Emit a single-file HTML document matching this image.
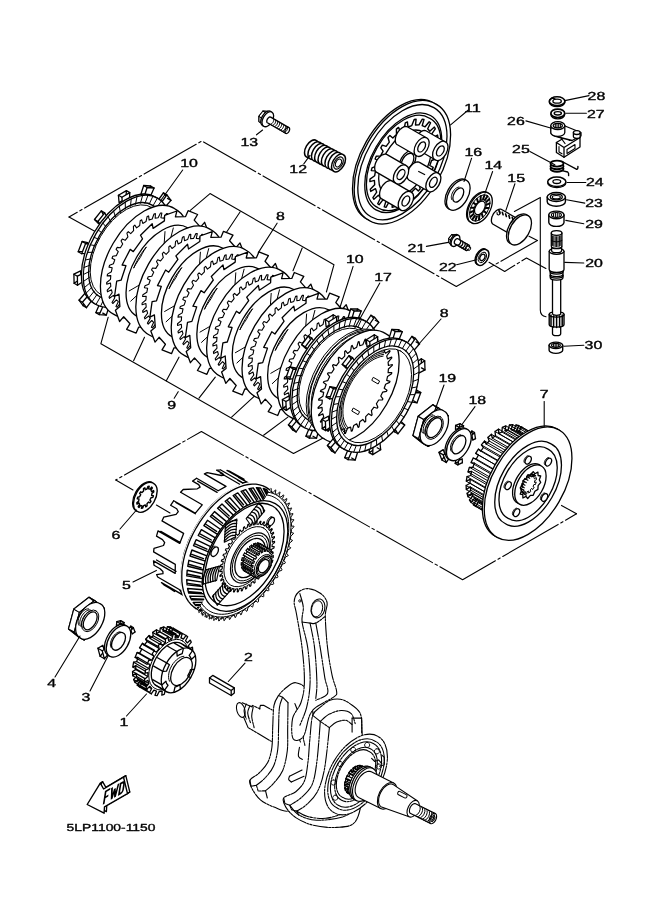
<!DOCTYPE html>
<html><head><meta charset="utf-8"><title>Clutch</title>
<style>
html,body{margin:0;padding:0;background:#fff;}
body{width:661px;height:913px;overflow:hidden;font-family:"Liberation Sans",sans-serif;}
svg{display:block;position:absolute;left:0;top:0;}
svg text{font-family:"Liberation Sans",sans-serif;fill:#000;text-rendering:geometricPrecision;}
</style></head><body>
<svg width="661" height="913" viewBox="0 0 661 913" stroke-linecap="round" stroke-linejoin="round">
<rect width="661" height="913" fill="#fff"/>
<path d="M69 217 L202 141 L456.3 286.5 L537.4 240.5" fill="none" stroke="#000" stroke-width="1.1" stroke-dasharray="60 3 2.5 3" stroke-dashoffset="-18"/>
<path d="M97 232.5 L69 217" fill="none" stroke="#000" stroke-width="1.1" />
<path d="M537.4 240.5 L529 236.2" fill="none" stroke="#000" stroke-width="1.1" />
<path d="M489 262.3 L504.7 271.5 L526.5 258 L545.9 268.4" fill="none" stroke="#000" stroke-width="1.1" stroke-dasharray="30 3 2.5 3"/>
<path d="M514.4 211.5L540.3 197.4L540.3 310Q540.3 316 546 316.8" fill="none" stroke="#000" stroke-width="1.1" />
<path d="M115.8 480 L201.4 431.6 L462.6 579.7 L576.5 513.8" fill="none" stroke="#000" stroke-width="1.1" stroke-dasharray="64 3 2.5 3" stroke-dashoffset="-10"/>
<path d="M133 490 L115.8 480" fill="none" stroke="#000" stroke-width="1.1" />
<path d="M576.5 513.8 L561.5 505.4" fill="none" stroke="#000" stroke-width="1.1" />
<path d="M156.4 505 L170 513" fill="none" stroke="#000" stroke-width="1.1" />
<path d="M190.3 210.3 L210 193.6 L334 264.7 L326.4 292" fill="none" stroke="#000" stroke-width="1.1" />
<path d="M240.2 211.8 L225 234.5" fill="none" stroke="#000" stroke-width="1.1" />
<path d="M302.2 248 L293 270.8" fill="none" stroke="#000" stroke-width="1.1" />
<path d="M108.2 317.2 L100.9 343.7 L293.5 453.5 L326 436.5" fill="none" stroke="#000" stroke-width="1.1" />
<path d="M133.6 360.8 L144.5 337.2" fill="none" stroke="#000" stroke-width="1.1" />
<path d="M166.3 380.8 L179 357.2" fill="none" stroke="#000" stroke-width="1.1" />
<path d="M199 398.2 L215.3 377.1" fill="none" stroke="#000" stroke-width="1.1" />
<path d="M231.6 417.1 L255.2 395.3" fill="none" stroke="#000" stroke-width="1.1" />
<path d="M263.6 435.2 L287.9 417.1" fill="none" stroke="#000" stroke-width="1.1" />
<path d="M158 200.5 L163.4 192.9 L167.5 198.4 L161.5 205.3Z" fill="#fff" stroke="#000" stroke-width="1.3" />
<path d="M161.4 202.5 L166.9 194.9 L171 200.4 L164.9 207.3Z" fill="#fff" stroke="#000" stroke-width="1.3" />
<path d="M163.4 192.9L166.9 194.9" stroke="#000" stroke-width="1.3" fill="none" />
<path d="M167.5 198.4L171 200.4" stroke="#000" stroke-width="1.3" fill="none" />
<path d="M165.7 219.9 L172.4 215.3 L172.5 224.4 L165.8 227.8Z" fill="#fff" stroke="#000" stroke-width="1.3" />
<path d="M169.2 221.9 L175.9 217.3 L176 226.4 L169.3 229.8Z" fill="#fff" stroke="#000" stroke-width="1.3" />
<path d="M172.4 215.3L175.9 217.3" stroke="#000" stroke-width="1.3" fill="none" />
<path d="M172.5 224.4L176 226.4" stroke="#000" stroke-width="1.3" fill="none" />
<path d="M162.1 247.2 L168.2 246.9 L164.4 257.1 L158.8 256Z" fill="#fff" stroke="#000" stroke-width="1.3" />
<path d="M165.6 249.2 L171.7 248.9 L167.8 259.1 L162.3 258Z" fill="#fff" stroke="#000" stroke-width="1.3" />
<path d="M168.2 246.9L171.7 248.9" stroke="#000" stroke-width="1.3" fill="none" />
<path d="M164.4 257.1L167.8 259.1" stroke="#000" stroke-width="1.3" fill="none" />
<path d="M148.1 275 L152 279.1 L145.2 287.7 L142.2 282.5Z" fill="#fff" stroke="#000" stroke-width="1.3" />
<path d="M151.5 277 L155.5 281.1 L148.7 289.7 L145.7 284.5Z" fill="#fff" stroke="#000" stroke-width="1.3" />
<path d="M152 279.1L155.5 281.1" stroke="#000" stroke-width="1.3" fill="none" />
<path d="M145.2 287.7L148.7 289.7" stroke="#000" stroke-width="1.3" fill="none" />
<path d="M127.4 296 L128 303.3 L120.1 308 L120.5 300.1Z" fill="#fff" stroke="#000" stroke-width="1.3" />
<path d="M130.9 298 L131.5 305.3 L123.6 310 L124 302.1Z" fill="#fff" stroke="#000" stroke-width="1.3" />
<path d="M128 303.3L131.5 305.3" stroke="#000" stroke-width="1.3" fill="none" />
<path d="M120.1 308L123.6 310" stroke="#000" stroke-width="1.3" fill="none" />
<path d="M105.6 304.4 L102.8 313.1 L95.9 312.6 L99.6 304Z" fill="#fff" stroke="#000" stroke-width="1.3" />
<path d="M109.1 306.4 L106.3 315.1 L99.3 314.6 L103.1 306Z" fill="#fff" stroke="#000" stroke-width="1.3" />
<path d="M102.8 313.1L106.3 315.1" stroke="#000" stroke-width="1.3" fill="none" />
<path d="M95.9 312.6L99.3 314.6" stroke="#000" stroke-width="1.3" fill="none" />
<path d="M88.5 298.1 L83.1 305.7 L79 300.2 L85 293.3Z" fill="#fff" stroke="#000" stroke-width="1.3" />
<path d="M92 300.1 L86.5 307.7 L82.4 302.2 L88.5 295.3Z" fill="#fff" stroke="#000" stroke-width="1.3" />
<path d="M83.1 305.7L86.5 307.7" stroke="#000" stroke-width="1.3" fill="none" />
<path d="M79 300.2L82.4 302.2" stroke="#000" stroke-width="1.3" fill="none" />
<path d="M80.7 278.7 L74.1 283.3 L73.9 274.2 L80.6 270.8Z" fill="#fff" stroke="#000" stroke-width="1.3" />
<path d="M84.2 280.7 L77.5 285.3 L77.4 276.2 L84.1 272.8Z" fill="#fff" stroke="#000" stroke-width="1.3" />
<path d="M74.1 283.3L77.5 285.3" stroke="#000" stroke-width="1.3" fill="none" />
<path d="M73.9 274.2L77.4 276.2" stroke="#000" stroke-width="1.3" fill="none" />
<path d="M84.4 251.4 L78.2 251.7 L82.1 241.5 L87.7 242.6Z" fill="#fff" stroke="#000" stroke-width="1.3" />
<path d="M87.8 253.4 L81.7 253.7 L85.6 243.5 L91.1 244.6Z" fill="#fff" stroke="#000" stroke-width="1.3" />
<path d="M78.2 251.7L81.7 253.7" stroke="#000" stroke-width="1.3" fill="none" />
<path d="M82.1 241.5L85.6 243.5" stroke="#000" stroke-width="1.3" fill="none" />
<path d="M98.4 223.6 L94.5 219.5 L101.3 210.9 L104.3 216.1Z" fill="#fff" stroke="#000" stroke-width="1.3" />
<path d="M101.9 225.6 L97.9 221.5 L104.7 212.9 L107.7 218.1Z" fill="#fff" stroke="#000" stroke-width="1.3" />
<path d="M94.5 219.5L97.9 221.5" stroke="#000" stroke-width="1.3" fill="none" />
<path d="M101.3 210.9L104.7 212.9" stroke="#000" stroke-width="1.3" fill="none" />
<path d="M119.1 202.6 L118.4 195.3 L126.4 190.6 L125.9 198.5Z" fill="#fff" stroke="#000" stroke-width="1.3" />
<path d="M122.5 204.6 L121.9 197.3 L129.8 192.6 L129.4 200.5Z" fill="#fff" stroke="#000" stroke-width="1.3" />
<path d="M118.4 195.3L121.9 197.3" stroke="#000" stroke-width="1.3" fill="none" />
<path d="M126.4 190.6L129.8 192.6" stroke="#000" stroke-width="1.3" fill="none" />
<path d="M140.9 194.2 L143.7 185.5 L150.6 186 L146.9 194.6Z" fill="#fff" stroke="#000" stroke-width="1.3" />
<path d="M144.3 196.2 L147.1 187.5 L154.1 188 L150.3 196.6Z" fill="#fff" stroke="#000" stroke-width="1.3" />
<path d="M143.7 185.5L147.1 187.5" stroke="#000" stroke-width="1.3" fill="none" />
<path d="M150.6 186L154.1 188" stroke="#000" stroke-width="1.3" fill="none" />
<path d="M155.5 197A61.4 35.4 -60 1 0 94.1 303.4A61.4 35.4 -60 1 0 155.5 197Z" fill="#fff" stroke="#000" stroke-width="1.3" />
<path d="M157.4 198.1A61.4 35.4 -60 1 0 96 304.5A61.4 35.4 -60 1 0 157.4 198.1Z" fill="#fff" stroke="none" stroke-width="0" />
<path d="M157.4 198.1 L159.5 199.5 L161.4 201.1 L163.1 203 L164.7 205.1 L166 207.4 L167.2 209.9 L168.2 212.7 L169 215.6 L169.6 218.7 L169.9 222 L170.1 225.4 L170 228.9 L169.8 232.5 L169.3 236.3 L168.6 240.1 L167.7 243.9 L166.6 247.8 L165.4 251.7 L163.9 255.6 L162.2 259.5 L160.4 263.4 L158.4 267.1 L156.3 270.9 L154 274.5 L151.6 278 L149 281.4 L146.4 284.6 L143.6 287.6 L140.8 290.5 L137.9 293.2 L135 295.7 L132 298 L129 300 L125.9 301.9 L122.9 303.4 L119.9 304.7 L116.9 305.8 L114 306.6 L111.1 307.1 L108.3 307.3 L105.6 307.3 L103 307 L100.6 306.4 L98.2 305.6 L96 304.5 L93.9 303.1 L92 301.5 L90.3 299.6 L88.7 297.5 L87.4 295.2 L86.2 292.7 L85.2 289.9 L84.4 287 L83.8 283.9 L83.5 280.6 L83.3 277.2 L83.4 273.7 L83.6 270.1 L84.1 266.3 L84.8 262.5 L85.7 258.7 L86.8 254.8 L88 250.9 L89.5 247 L91.2 243.1 L93 239.2 L95 235.5 L97.1 231.7 L99.4 228.1 L101.8 224.6 L104.4 221.2 L107 218 L109.8 215 L112.6 212.1 L115.5 209.4 L118.4 206.9 L121.4 204.6 L124.4 202.6 L127.5 200.7 L130.5 199.2 L133.5 197.9 L136.5 196.8 L139.4 196 L142.3 195.5 L145.1 195.3 L147.8 195.3 L150.4 195.6 L152.8 196.2 L155.2 197 L157.4 198.1Z M152 207.6 L153.6 208.7 L155.2 210 L156.6 211.6 L157.9 213.3 L159.1 215.2 L160 217.3 L160.8 219.5 L161.5 221.9 L162 224.5 L162.3 227.2 L162.4 230 L162.3 232.9 L162.1 235.9 L161.7 238.9 L161.2 242.1 L160.4 245.2 L159.6 248.4 L158.5 251.6 L157.3 254.9 L155.9 258.1 L154.4 261.2 L152.8 264.3 L151 267.4 L149.2 270.4 L147.2 273.2 L145.1 276 L142.9 278.7 L140.6 281.2 L138.3 283.6 L135.9 285.8 L133.5 287.8 L131 289.7 L128.6 291.4 L126.1 292.9 L123.6 294.2 L121.1 295.2 L118.7 296.1 L116.3 296.8 L113.9 297.2 L111.6 297.4 L109.4 297.4 L107.2 297.1 L105.2 296.6 L103.3 295.9 L101.5 295 L99.8 293.9 L98.2 292.6 L96.8 291 L95.5 289.3 L94.3 287.4 L93.4 285.3 L92.6 283.1 L91.9 280.7 L91.4 278.1 L91.1 275.4 L91 272.6 L91.1 269.7 L91.3 266.7 L91.7 263.7 L92.2 260.5 L93 257.4 L93.8 254.2 L94.9 251 L96.1 247.7 L97.5 244.5 L99 241.4 L100.6 238.3 L102.4 235.2 L104.2 232.2 L106.2 229.4 L108.3 226.6 L110.5 223.9 L112.8 221.4 L115.1 219 L117.5 216.8 L119.9 214.8 L122.4 212.9 L124.8 211.2 L127.3 209.7 L129.8 208.4 L132.3 207.4 L134.7 206.5 L137.1 205.8 L139.5 205.4 L141.8 205.2 L144 205.2 L146.2 205.5 L148.2 206 L150.1 206.7 L151.9 207.6Z" fill="#fff" fill-rule="evenodd" stroke="none"/>
<path d="M157.4 198.1A61.4 35.4 -60 1 0 96 304.5A61.4 35.4 -60 1 0 157.4 198.1Z" fill="none" stroke="#000" stroke-width="1.3" />
<path d="M153.1 205.6A52.8 30.5 -60 1 0 100.3 297A52.8 30.5 -60 1 0 153.1 205.6Z" fill="none" stroke="#000" stroke-width="1.3" />
<path d="M152 207.6A50.5 29.1 -60 1 0 101.5 295A50.5 29.1 -60 1 0 152 207.6Z" fill="none" stroke="#000" stroke-width="1" />
<path d="M153.1 205.6L157.4 198.1M156.4 208.1L161.3 201M159.2 211.4L164.5 204.9M161.4 215.4L167.1 209.6M163 220.1L168.9 215.1M163.8 225.4L169.9 221.2M164 231.2L170.1 228M163.5 237.4L169.5 235.1M162.3 243.8L168.1 242.6M160.4 250.3L165.9 250.2M157.9 256.9L163 257.8M154.8 263.4L159.4 265.3M151.2 269.6L155.2 272.6M147.2 275.5L150.5 279.5M142.7 281L145.3 285.8M138 285.9L139.8 291.5M133 290.1L134.1 296.4M128 293.6L128.2 300.5M122.9 296.4L122.2 303.7M117.9 298.3L116.4 305.9M113 299.3L110.8 307.1M108.4 299.4L105.4 307.3M104.1 298.7L100.5 306.4M100.3 297L96 304.5M97 294.5L92.1 301.6M94.2 291.2L88.9 297.7M92 287.2L86.3 293M90.4 282.5L84.5 287.5M89.6 277.2L83.5 281.4M89.4 271.4L83.3 274.6M89.9 265.2L83.9 267.5M91.1 258.8L85.3 260M93 252.3L87.5 252.4M95.5 245.7L90.4 244.8M98.6 239.2L94 237.3M102.2 233L98.2 230M106.2 227.1L102.9 223.1M110.7 221.6L108.1 216.8M115.4 216.7L113.6 211.1M120.4 212.5L119.3 206.2M125.4 209L125.2 202.1M130.5 206.2L131.2 198.9M135.5 204.3L137 196.7M140.4 203.3L142.6 195.5M145 203.2L148 195.3M149.3 203.9L152.9 196.2" fill="none" stroke="#000" stroke-width="1" />
<path d="M174.9 208.8A61 35.2 -60 1 0 113.9 314.4A61 35.2 -60 1 0 174.9 208.8Z" fill="#fff" stroke="#000" stroke-width="1.3" />
<path d="M133.4 309.6 L133.6 305 L130.7 305.4 L128.3 310.2 L126.9 310.2 L127.9 305.4 L125.2 305 L122.3 309.6 L121.1 309.3 L122.7 304.3 L120.4 303.2 L117.1 307.3 L116 306.6 L118.3 301.7 L116.4 299.9 L112.8 303.5 L112 302.5 L114.8 297.8 L113.4 295.4 L109.5 298.3 L109 297 L112.2 292.6 L111.4 289.7 L107.5 291.8 L107.2 290.2 L110.8 286.4 L110.5 283 L106.7 284.2 L106.7 282.5 L110.5 279.4 L110.8 275.6 L107.2 275.9 L107.5 274.1 L111.4 271.7 L112.2 267.7 L109 267.1 L109.6 265.2 L113.4 263.7 L114.8 259.7 L112 258.2 L112.8 256.2 L116.4 255.6 L118.3 251.6 L116.1 249.3 L117.1 247.4 L120.4 247.8 L122.7 244 L121.1 240.9 L122.3 239.1 L125.2 240.3 L127.9 236.9 L126.9 233.1 L128.3 231.6 L130.7 233.7 L133.6 230.7 L133.4 226.4 L134.8 225.1 L136.6 227.9 L139.7 225.5 L140.2 220.8 L141.7 219.8 L142.8 223.4 L146 221.6 L147.1 216.6 L148.6 215.9 L149.1 220.1 L152.2 219 L154 214 L155.4 213.6 L155.2 218.2 L158.1 217.8 L160.5 213 L161.9 213 L160.9 217.8 L163.6 218.2 L166.5 213.6 L167.7 213.9 L166.1 218.9 L168.4 220 L171.7 215.9 L172.8 216.6 L170.5 221.5 L172.4 223.3 L176 219.7 L176.8 220.7 L174 225.4 L175.4 227.8 L179.3 224.9 L179.8 226.2 L176.6 230.6" fill="none" stroke="#000" stroke-width="1.1" />
<path d="M197.6 214.5 L194.2 220.1 L200.5 227.1 L204.6 222.3 L208.8 233.5 L204.3 237.2 L205.2 249.6 L209.7 247.3 L207.5 262.7 L203.1 263.6 L198.3 278.1 L202.1 278.8 L194 294.4 L190.9 292.2 L181.7 305 L183.7 308.5 L172 320.1 L171.1 315.4 L159.8 322.9 L159.6 328.4 L147.3 332.8 L148.8 327 L138.6 327.2 L136.1 333.1 L126.6 329.3 L130 323.7 L123.7 316.7 L119.6 321.5 L115.4 310.3 L119.9 306.6 L119 294.2 L114.5 296.5 L116.7 281.1 L121.1 280.2 L125.9 265.7 L122.1 265 L130.2 249.4 L133.3 251.6 L142.5 238.8 L140.5 235.3 L152.2 223.7 L153.1 228.4 L164.4 220.9 L164.6 215.4 L176.9 211 L175.4 216.8 L185.6 216.6 L188.1 210.7Z" fill="#fff" stroke="#000" stroke-width="1.3" />
<path d="M187.6 227.7A51 29.4 -60 1 0 136.6 316.1A51 29.4 -60 1 0 187.6 227.7Z" fill="none" stroke="#000" stroke-width="1.3" />
<path d="M169.9 241.1L173.3 228M163.8 249L165 231.6M145.1 281.7L129.2 290.9M144.5 288.3L130.7 301.2M133.8 267.8 L135.4 264.1 L137.3 260.4 L139.3 256.8 L141.5 253.4 L143.9 250 L146.4 246.9 L146.4 246.9 L144.2 250.4 L142.1 253.9 L140.3 257.5 L138 260.8 L135.8 264.2 L133.8 267.8Z" fill="none" stroke="#000" stroke-width="1" />
<path d="M210.3 229.4A61 35.2 -60 1 0 149.3 335A61 35.2 -60 1 0 210.3 229.4Z" fill="#fff" stroke="#000" stroke-width="1.3" />
<path d="M168.8 330.2 L169 325.6 L166.1 326 L163.7 330.8 L162.3 330.8 L163.3 326 L160.6 325.6 L157.7 330.2 L156.5 329.9 L158.1 324.9 L155.8 323.8 L152.5 327.9 L151.4 327.2 L153.7 322.3 L151.8 320.5 L148.2 324.1 L147.4 323.1 L150.2 318.4 L148.8 316 L144.9 318.9 L144.4 317.6 L147.6 313.2 L146.8 310.3 L142.9 312.4 L142.6 310.8 L146.2 307 L145.9 303.6 L142.1 304.8 L142.1 303.1 L145.9 300 L146.2 296.2 L142.6 296.5 L142.9 294.7 L146.8 292.3 L147.6 288.3 L144.4 287.7 L145 285.8 L148.8 284.3 L150.2 280.3 L147.4 278.8 L148.2 276.8 L151.8 276.2 L153.7 272.2 L151.5 269.9 L152.5 268 L155.8 268.4 L158.1 264.6 L156.5 261.5 L157.7 259.7 L160.6 260.9 L163.3 257.5 L162.3 253.7 L163.7 252.2 L166.1 254.3 L169 251.3 L168.8 247 L170.2 245.7 L172 248.5 L175.1 246.1 L175.6 241.4 L177.1 240.4 L178.2 244 L181.4 242.2 L182.5 237.2 L184 236.5 L184.5 240.7 L187.6 239.6 L189.4 234.6 L190.8 234.2 L190.6 238.8 L193.5 238.4 L195.9 233.6 L197.3 233.6 L196.3 238.4 L199 238.8 L201.9 234.2 L203.1 234.5 L201.5 239.5 L203.8 240.6 L207.1 236.5 L208.2 237.2 L205.9 242.1 L207.8 243.9 L211.4 240.3 L212.2 241.3 L209.4 246 L210.8 248.4 L214.7 245.5 L215.2 246.8 L212 251.2" fill="none" stroke="#000" stroke-width="1.1" />
<path d="M233 235.1 L229.6 240.7 L235.9 247.7 L240 242.9 L244.2 254.1 L239.7 257.8 L240.6 270.2 L245.1 267.9 L242.9 283.3 L238.5 284.2 L233.7 298.7 L237.5 299.4 L229.4 315 L226.3 312.8 L217.1 325.6 L219.1 329.1 L207.4 340.7 L206.5 336 L195.2 343.5 L195 349 L182.7 353.4 L184.2 347.6 L174 347.8 L171.5 353.7 L162 349.9 L165.4 344.3 L159.1 337.3 L155 342.1 L150.8 330.9 L155.3 327.2 L154.4 314.8 L149.9 317.1 L152.1 301.7 L156.5 300.8 L161.3 286.3 L157.5 285.6 L165.6 270 L168.7 272.2 L177.9 259.4 L175.9 255.9 L187.6 244.3 L188.5 249 L199.8 241.5 L200 236 L212.3 231.6 L210.8 237.4 L221 237.2 L223.5 231.3Z" fill="#fff" stroke="#000" stroke-width="1.3" />
<path d="M223 248.3A51 29.4 -60 1 0 172 336.7A51 29.4 -60 1 0 223 248.3Z" fill="none" stroke="#000" stroke-width="1.3" />
<path d="M205.3 261.7L208.7 248.6M199.2 269.6L200.4 252.2M180.5 302.3L164.6 311.5M179.9 308.9L166.1 321.8M169.2 288.4 L170.8 284.7 L172.7 281 L174.7 277.4 L176.9 274 L179.3 270.6 L181.8 267.5 L181.8 267.5 L179.6 271 L177.5 274.5 L175.7 278.1 L173.4 281.4 L171.2 284.8 L169.2 288.4Z" fill="none" stroke="#000" stroke-width="1" />
<path d="M245.7 250A61 35.2 -60 1 0 184.7 355.6A61 35.2 -60 1 0 245.7 250Z" fill="#fff" stroke="#000" stroke-width="1.3" />
<path d="M204.2 350.8 L204.4 346.2 L201.5 346.6 L199.1 351.4 L197.7 351.4 L198.7 346.6 L196 346.2 L193.1 350.8 L191.9 350.5 L193.5 345.5 L191.2 344.4 L187.9 348.5 L186.8 347.8 L189.1 342.9 L187.2 341.1 L183.6 344.7 L182.8 343.7 L185.6 339 L184.2 336.6 L180.3 339.5 L179.8 338.2 L183 333.8 L182.2 330.9 L178.3 333 L178 331.4 L181.6 327.6 L181.3 324.2 L177.5 325.4 L177.5 323.7 L181.3 320.6 L181.6 316.8 L178 317.1 L178.3 315.3 L182.2 312.9 L183 308.9 L179.8 308.3 L180.4 306.4 L184.2 304.9 L185.6 300.9 L182.8 299.4 L183.6 297.4 L187.2 296.8 L189.1 292.8 L186.9 290.5 L187.9 288.6 L191.2 289 L193.5 285.2 L191.9 282.1 L193.1 280.3 L196 281.5 L198.7 278.1 L197.7 274.3 L199.1 272.8 L201.5 274.9 L204.4 271.9 L204.2 267.6 L205.6 266.3 L207.4 269.1 L210.5 266.7 L211 262 L212.5 261 L213.6 264.6 L216.8 262.8 L217.9 257.8 L219.4 257.1 L219.9 261.3 L223 260.2 L224.8 255.2 L226.2 254.8 L226 259.4 L228.9 259 L231.3 254.2 L232.7 254.2 L231.7 259 L234.4 259.4 L237.3 254.8 L238.5 255.1 L236.9 260.1 L239.2 261.2 L242.5 257.1 L243.6 257.8 L241.3 262.7 L243.2 264.5 L246.8 260.9 L247.6 261.9 L244.8 266.6 L246.2 269 L250.1 266.1 L250.6 267.4 L247.4 271.8" fill="none" stroke="#000" stroke-width="1.1" />
<path d="M268.4 255.7 L265 261.3 L271.3 268.3 L275.4 263.5 L279.6 274.7 L275.1 278.4 L276 290.8 L280.5 288.5 L278.3 303.9 L273.9 304.8 L269.1 319.3 L272.9 320 L264.8 335.6 L261.7 333.4 L252.5 346.2 L254.5 349.7 L242.8 361.3 L241.9 356.6 L230.6 364.1 L230.4 369.6 L218.1 374 L219.6 368.2 L209.4 368.4 L206.9 374.3 L197.4 370.5 L200.8 364.9 L194.5 357.9 L190.4 362.7 L186.2 351.5 L190.7 347.8 L189.8 335.4 L185.3 337.7 L187.5 322.3 L191.9 321.4 L196.7 306.9 L192.9 306.2 L201 290.6 L204.1 292.8 L213.3 280 L211.3 276.5 L223 264.9 L223.9 269.6 L235.2 262.1 L235.4 256.6 L247.7 252.2 L246.2 258 L256.4 257.8 L258.9 251.9Z" fill="#fff" stroke="#000" stroke-width="1.3" />
<path d="M258.4 268.9A51 29.4 -60 1 0 207.4 357.3A51 29.4 -60 1 0 258.4 268.9Z" fill="none" stroke="#000" stroke-width="1.3" />
<path d="M240.7 282.3L244.1 269.2M234.6 290.2L235.8 272.8M215.9 322.9L200 332.1M215.3 329.5L201.5 342.4M204.6 309 L206.2 305.3 L208.1 301.6 L210.1 298 L212.3 294.6 L214.7 291.2 L217.2 288.1 L217.2 288.1 L215 291.6 L212.9 295.1 L211.1 298.7 L208.8 302 L206.6 305.4 L204.6 309Z" fill="none" stroke="#000" stroke-width="1" />
<path d="M281.1 270.6A61 35.2 -60 1 0 220.1 376.2A61 35.2 -60 1 0 281.1 270.6Z" fill="#fff" stroke="#000" stroke-width="1.3" />
<path d="M239.6 371.4 L239.8 366.8 L236.9 367.2 L234.5 372 L233.1 372 L234.1 367.2 L231.4 366.8 L228.5 371.4 L227.3 371.1 L228.9 366.1 L226.6 365 L223.3 369.1 L222.2 368.4 L224.5 363.5 L222.6 361.7 L219 365.3 L218.2 364.3 L221 359.6 L219.6 357.2 L215.7 360.1 L215.2 358.8 L218.4 354.4 L217.6 351.5 L213.7 353.6 L213.4 352 L217 348.2 L216.7 344.8 L212.9 346 L212.9 344.3 L216.7 341.2 L217 337.4 L213.4 337.7 L213.7 335.9 L217.6 333.5 L218.4 329.5 L215.2 328.9 L215.8 327 L219.6 325.5 L221 321.5 L218.2 320 L219 318 L222.6 317.4 L224.5 313.4 L222.3 311.1 L223.3 309.2 L226.6 309.6 L228.9 305.8 L227.3 302.7 L228.5 300.9 L231.4 302.1 L234.1 298.7 L233.1 294.9 L234.5 293.4 L236.9 295.5 L239.8 292.5 L239.6 288.2 L241 286.9 L242.8 289.7 L245.9 287.3 L246.4 282.6 L247.9 281.6 L249 285.2 L252.2 283.4 L253.3 278.4 L254.8 277.7 L255.3 281.9 L258.4 280.8 L260.2 275.8 L261.6 275.4 L261.4 280 L264.3 279.6 L266.7 274.8 L268.1 274.8 L267.1 279.6 L269.8 280 L272.7 275.4 L273.9 275.7 L272.3 280.7 L274.6 281.8 L277.9 277.7 L279 278.4 L276.7 283.3 L278.6 285.1 L282.2 281.5 L283 282.5 L280.2 287.2 L281.6 289.6 L285.5 286.7 L286 288 L282.8 292.4" fill="none" stroke="#000" stroke-width="1.1" />
<path d="M303.8 276.3 L300.4 281.9 L306.7 288.9 L310.8 284.1 L315 295.3 L310.5 299 L311.4 311.4 L315.9 309.1 L313.7 324.5 L309.3 325.4 L304.5 339.9 L308.3 340.6 L300.2 356.2 L297.1 354 L287.9 366.8 L289.9 370.3 L278.2 381.9 L277.3 377.2 L266 384.7 L265.8 390.2 L253.5 394.6 L255 388.8 L244.8 389 L242.3 394.9 L232.8 391.1 L236.2 385.5 L229.9 378.5 L225.8 383.3 L221.6 372.1 L226.1 368.4 L225.2 356 L220.7 358.3 L222.9 342.9 L227.3 342 L232.1 327.5 L228.3 326.8 L236.4 311.2 L239.5 313.4 L248.7 300.6 L246.7 297.1 L258.4 285.5 L259.3 290.2 L270.6 282.7 L270.8 277.2 L283.1 272.8 L281.6 278.6 L291.8 278.4 L294.3 272.5Z" fill="#fff" stroke="#000" stroke-width="1.3" />
<path d="M293.8 289.5A51 29.4 -60 1 0 242.8 377.9A51 29.4 -60 1 0 293.8 289.5Z" fill="none" stroke="#000" stroke-width="1.3" />
<path d="M276.1 302.9L279.5 289.8M270 310.8L271.2 293.4M251.3 343.5L235.4 352.7M250.7 350.1L236.9 363M240 329.6 L241.6 325.9 L243.5 322.2 L245.5 318.6 L247.7 315.2 L250.1 311.8 L252.6 308.7 L252.6 308.7 L250.4 312.2 L248.3 315.7 L246.5 319.3 L244.2 322.6 L242 326 L240 329.6Z" fill="none" stroke="#000" stroke-width="1" />
<path d="M316.5 291.2A61 35.2 -60 1 0 255.5 396.8A61 35.2 -60 1 0 316.5 291.2Z" fill="#fff" stroke="#000" stroke-width="1.3" />
<path d="M275 392 L275.2 387.4 L272.3 387.8 L269.9 392.6 L268.5 392.6 L269.5 387.8 L266.8 387.4 L263.9 392 L262.7 391.7 L264.3 386.7 L262 385.6 L258.7 389.7 L257.6 389 L259.9 384.1 L258 382.3 L254.4 385.9 L253.6 384.9 L256.4 380.2 L255 377.8 L251.1 380.7 L250.6 379.4 L253.8 375 L253 372.1 L249.1 374.2 L248.8 372.6 L252.4 368.8 L252.1 365.4 L248.3 366.6 L248.3 364.9 L252.1 361.8 L252.4 358 L248.8 358.3 L249.1 356.5 L253 354.1 L253.8 350.1 L250.6 349.5 L251.2 347.6 L255 346.1 L256.4 342.1 L253.6 340.6 L254.4 338.6 L258 338 L259.9 334 L257.7 331.7 L258.7 329.8 L262 330.2 L264.3 326.4 L262.7 323.3 L263.9 321.5 L266.8 322.7 L269.5 319.3 L268.5 315.5 L269.9 314 L272.3 316.1 L275.2 313.1 L275 308.8 L276.4 307.5 L278.2 310.3 L281.3 307.9 L281.8 303.2 L283.3 302.2 L284.4 305.8 L287.6 304 L288.7 299 L290.2 298.3 L290.7 302.5 L293.8 301.4 L295.6 296.4 L297 296 L296.8 300.6 L299.7 300.2 L302.1 295.4 L303.5 295.4 L302.5 300.2 L305.2 300.6 L308.1 296 L309.3 296.3 L307.7 301.3 L310 302.4 L313.3 298.3 L314.4 299 L312.1 303.9 L314 305.7 L317.6 302.1 L318.4 303.1 L315.6 307.8 L317 310.2 L320.9 307.3 L321.4 308.6 L318.2 313" fill="none" stroke="#000" stroke-width="1.1" />
<path d="M339.2 296.9 L335.8 302.5 L342.1 309.5 L346.2 304.7 L350.4 315.9 L345.9 319.6 L346.8 332 L351.3 329.7 L349.1 345.1 L344.7 346 L339.9 360.5 L343.7 361.2 L335.6 376.8 L332.5 374.6 L323.3 387.4 L325.3 390.9 L313.6 402.5 L312.7 397.8 L301.4 405.3 L301.2 410.8 L288.9 415.2 L290.4 409.4 L280.2 409.6 L277.7 415.5 L268.2 411.7 L271.6 406.1 L265.3 399.1 L261.2 403.9 L257 392.7 L261.5 389 L260.6 376.6 L256.1 378.9 L258.3 363.5 L262.7 362.6 L267.5 348.1 L263.7 347.4 L271.8 331.8 L274.9 334 L284.1 321.2 L282.1 317.7 L293.8 306.1 L294.7 310.8 L306 303.3 L306.2 297.8 L318.5 293.4 L317 299.2 L327.2 299 L329.7 293.1Z" fill="#fff" stroke="#000" stroke-width="1.3" />
<path d="M329.2 310.1A51 29.4 -60 1 0 278.2 398.5A51 29.4 -60 1 0 329.2 310.1Z" fill="none" stroke="#000" stroke-width="1.3" />
<path d="M311.5 323.5L314.9 310.4M305.4 331.4L306.6 314M286.7 364.1L270.8 373.3M286.1 370.7L272.3 383.6M275.4 350.2 L277 346.5 L278.9 342.8 L280.9 339.2 L283.1 335.8 L285.5 332.4 L288 329.3 L288 329.3 L285.8 332.8 L283.7 336.3 L281.9 339.9 L279.6 343.2 L277.4 346.6 L275.4 350.2Z" fill="none" stroke="#000" stroke-width="1" />
<path d="M351.9 311.8A61 35.2 -60 1 0 290.9 417.4A61 35.2 -60 1 0 351.9 311.8Z" fill="#fff" stroke="#000" stroke-width="1.3" />
<path d="M310.4 412.6 L310.6 408 L307.7 408.4 L305.3 413.2 L303.9 413.2 L304.9 408.4 L302.2 408 L299.3 412.6 L298.1 412.3 L299.7 407.3 L297.4 406.2 L294.1 410.3 L293 409.6 L295.3 404.7 L293.4 402.9 L289.8 406.5 L289 405.5 L291.8 400.8 L290.4 398.4 L286.5 401.3 L286 400 L289.2 395.6 L288.4 392.7 L284.5 394.8 L284.2 393.2 L287.8 389.4 L287.5 386 L283.7 387.2 L283.7 385.5 L287.5 382.4 L287.8 378.6 L284.2 378.9 L284.5 377.1 L288.4 374.7 L289.2 370.7 L286 370.1 L286.6 368.2 L290.4 366.7 L291.8 362.7 L289 361.2 L289.8 359.2 L293.4 358.6 L295.3 354.6 L293.1 352.3 L294.1 350.4 L297.4 350.8 L299.7 347 L298.1 343.9 L299.3 342.1 L302.2 343.3 L304.9 339.9 L303.9 336.1 L305.3 334.6 L307.7 336.7 L310.6 333.7 L310.4 329.4 L311.8 328.1 L313.6 330.9 L316.7 328.5 L317.2 323.8 L318.7 322.8 L319.8 326.4 L323 324.6 L324.1 319.6 L325.6 318.9 L326.1 323.1 L329.2 322 L331 317 L332.4 316.6 L332.2 321.2 L335.1 320.8 L337.5 316 L338.9 316 L337.9 320.8 L340.6 321.2 L343.5 316.6 L344.7 316.9 L343.1 321.9 L345.4 323 L348.7 318.9 L349.8 319.6 L347.5 324.5 L349.4 326.3 L353 322.7 L353.8 323.7 L351 328.4 L352.4 330.8 L356.3 327.9 L356.8 329.2 L353.6 333.6" fill="none" stroke="#000" stroke-width="1.1" />
<path d="M365.7 323 L371 315.2 L375.3 320.3 L369.4 327.5Z" fill="#fff" stroke="#000" stroke-width="1.3" />
<path d="M369.1 325 L374.5 317.2 L378.8 322.3 L372.9 329.5Z" fill="#fff" stroke="#000" stroke-width="1.3" />
<path d="M371 315.2L374.5 317.2" stroke="#000" stroke-width="1.3" fill="none" />
<path d="M375.3 320.3L378.8 322.3" stroke="#000" stroke-width="1.3" fill="none" />
<path d="M374.2 341.6 L380.8 336.8 L381.2 345.7 L374.5 349.3Z" fill="#fff" stroke="#000" stroke-width="1.3" />
<path d="M377.6 343.6 L384.3 338.8 L384.7 347.7 L378 351.3Z" fill="#fff" stroke="#000" stroke-width="1.3" />
<path d="M380.8 336.8L384.3 338.8" stroke="#000" stroke-width="1.3" fill="none" />
<path d="M381.2 345.7L384.7 347.7" stroke="#000" stroke-width="1.3" fill="none" />
<path d="M371.3 368.6 L377.5 368 L373.9 378.2 L368.2 377.4Z" fill="#fff" stroke="#000" stroke-width="1.3" />
<path d="M374.8 370.6 L381 370 L377.4 380.2 L371.7 379.4Z" fill="#fff" stroke="#000" stroke-width="1.3" />
<path d="M377.5 368L381 370" stroke="#000" stroke-width="1.3" fill="none" />
<path d="M373.9 378.2L377.4 380.2" stroke="#000" stroke-width="1.3" fill="none" />
<path d="M357.9 396.6 L362 400.4 L355.3 409.2 L352.1 404.2Z" fill="#fff" stroke="#000" stroke-width="1.3" />
<path d="M361.3 398.6 L365.4 402.4 L358.8 411.2 L355.6 406.2Z" fill="#fff" stroke="#000" stroke-width="1.3" />
<path d="M362 400.4L365.4 402.4" stroke="#000" stroke-width="1.3" fill="none" />
<path d="M355.3 409.2L358.8 411.2" stroke="#000" stroke-width="1.3" fill="none" />
<path d="M337.5 418.2 L338.4 425.4 L330.4 430.4 L330.6 422.6Z" fill="#fff" stroke="#000" stroke-width="1.3" />
<path d="M340.9 420.2 L341.8 427.4 L333.9 432.4 L334.1 424.6Z" fill="#fff" stroke="#000" stroke-width="1.3" />
<path d="M338.4 425.4L341.8 427.4" stroke="#000" stroke-width="1.3" fill="none" />
<path d="M330.4 430.4L333.9 432.4" stroke="#000" stroke-width="1.3" fill="none" />
<path d="M315.6 427.6 L313 436.2 L305.9 436.2 L309.5 427.5Z" fill="#fff" stroke="#000" stroke-width="1.3" />
<path d="M319 429.6 L316.5 438.2 L309.4 438.2 L312.9 429.5Z" fill="#fff" stroke="#000" stroke-width="1.3" />
<path d="M313 436.2L316.5 438.2" stroke="#000" stroke-width="1.3" fill="none" />
<path d="M305.9 436.2L309.4 438.2" stroke="#000" stroke-width="1.3" fill="none" />
<path d="M298 422.2 L292.7 430 L288.4 424.9 L294.3 417.7Z" fill="#fff" stroke="#000" stroke-width="1.3" />
<path d="M301.5 424.2 L296.1 432 L291.8 426.9 L297.7 419.7Z" fill="#fff" stroke="#000" stroke-width="1.3" />
<path d="M292.7 430L296.1 432" stroke="#000" stroke-width="1.3" fill="none" />
<path d="M288.4 424.9L291.8 426.9" stroke="#000" stroke-width="1.3" fill="none" />
<path d="M289.5 403.6 L282.9 408.4 L282.4 399.5 L289.2 395.9Z" fill="#fff" stroke="#000" stroke-width="1.3" />
<path d="M293 405.6 L286.3 410.4 L285.9 401.5 L292.6 397.9Z" fill="#fff" stroke="#000" stroke-width="1.3" />
<path d="M282.9 408.4L286.3 410.4" stroke="#000" stroke-width="1.3" fill="none" />
<path d="M282.4 399.5L285.9 401.5" stroke="#000" stroke-width="1.3" fill="none" />
<path d="M292.4 376.6 L286.2 377.2 L289.8 367 L295.5 367.8Z" fill="#fff" stroke="#000" stroke-width="1.3" />
<path d="M295.8 378.6 L289.6 379.2 L293.2 369 L298.9 369.8Z" fill="#fff" stroke="#000" stroke-width="1.3" />
<path d="M286.2 377.2L289.6 379.2" stroke="#000" stroke-width="1.3" fill="none" />
<path d="M289.8 367L293.2 369" stroke="#000" stroke-width="1.3" fill="none" />
<path d="M305.8 348.6 L301.7 344.8 L308.3 336 L311.5 341Z" fill="#fff" stroke="#000" stroke-width="1.3" />
<path d="M309.3 350.6 L305.2 346.8 L311.8 338 L315 343Z" fill="#fff" stroke="#000" stroke-width="1.3" />
<path d="M301.7 344.8L305.2 346.8" stroke="#000" stroke-width="1.3" fill="none" />
<path d="M308.3 336L311.8 338" stroke="#000" stroke-width="1.3" fill="none" />
<path d="M326.2 327 L325.3 319.8 L333.2 314.8 L333 322.6Z" fill="#fff" stroke="#000" stroke-width="1.3" />
<path d="M329.7 329 L328.8 321.8 L336.7 316.8 L336.5 324.6Z" fill="#fff" stroke="#000" stroke-width="1.3" />
<path d="M325.3 319.8L328.8 321.8" stroke="#000" stroke-width="1.3" fill="none" />
<path d="M333.2 314.8L336.7 316.8" stroke="#000" stroke-width="1.3" fill="none" />
<path d="M348.1 317.6 L350.7 309 L357.7 309 L354.2 317.7Z" fill="#fff" stroke="#000" stroke-width="1.3" />
<path d="M351.6 319.6 L354.1 311 L361.2 311 L357.7 319.7Z" fill="#fff" stroke="#000" stroke-width="1.3" />
<path d="M350.7 309L354.1 311" stroke="#000" stroke-width="1.3" fill="none" />
<path d="M357.7 309L361.2 311" stroke="#000" stroke-width="1.3" fill="none" />
<path d="M364.1 320.3A61.4 35.4 -60 1 0 302.7 426.7A61.4 35.4 -60 1 0 364.1 320.3Z" fill="#fff" stroke="#000" stroke-width="1.3" />
<path d="M366 321.4A61.4 35.4 -60 1 0 304.6 427.8A61.4 35.4 -60 1 0 366 321.4Z" fill="#fff" stroke="none" stroke-width="0" />
<path d="M366 321.4 L368.1 322.8 L370 324.4 L371.7 326.3 L373.3 328.4 L374.6 330.7 L375.8 333.2 L376.8 336 L377.6 338.9 L378.2 342 L378.5 345.3 L378.7 348.7 L378.6 352.2 L378.4 355.8 L377.9 359.6 L377.2 363.4 L376.3 367.2 L375.2 371.1 L374 375 L372.5 378.9 L370.8 382.8 L369 386.7 L367 390.4 L364.9 394.2 L362.6 397.8 L360.2 401.3 L357.6 404.7 L355 407.9 L352.2 410.9 L349.4 413.8 L346.5 416.5 L343.6 419 L340.6 421.3 L337.6 423.3 L334.5 425.2 L331.5 426.7 L328.5 428 L325.5 429.1 L322.6 429.9 L319.7 430.4 L316.9 430.6 L314.2 430.6 L311.6 430.3 L309.2 429.7 L306.8 428.9 L304.6 427.8 L302.5 426.4 L300.6 424.8 L298.9 422.9 L297.3 420.8 L296 418.5 L294.8 416 L293.8 413.2 L293 410.3 L292.4 407.2 L292.1 403.9 L291.9 400.5 L292 397 L292.2 393.4 L292.7 389.6 L293.4 385.8 L294.3 382 L295.4 378.1 L296.6 374.2 L298.1 370.3 L299.8 366.4 L301.6 362.5 L303.6 358.8 L305.7 355 L308 351.4 L310.4 347.9 L313 344.5 L315.6 341.3 L318.4 338.3 L321.2 335.4 L324.1 332.7 L327 330.2 L330 327.9 L333 325.9 L336.1 324 L339.1 322.5 L342.1 321.2 L345.1 320.1 L348 319.3 L350.9 318.8 L353.7 318.6 L356.4 318.6 L359 318.9 L361.4 319.5 L363.8 320.3 L366 321.4Z M360.6 330.9 L362.2 332 L363.8 333.3 L365.2 334.9 L366.5 336.6 L367.7 338.5 L368.6 340.6 L369.4 342.8 L370.1 345.2 L370.6 347.8 L370.9 350.5 L371 353.3 L370.9 356.2 L370.7 359.2 L370.3 362.2 L369.8 365.4 L369 368.5 L368.2 371.7 L367.1 374.9 L365.9 378.2 L364.5 381.4 L363 384.5 L361.4 387.6 L359.6 390.7 L357.8 393.7 L355.8 396.5 L353.7 399.3 L351.5 402 L349.2 404.5 L346.9 406.9 L344.5 409.1 L342.1 411.1 L339.6 413 L337.2 414.7 L334.7 416.2 L332.2 417.5 L329.7 418.5 L327.3 419.4 L324.9 420.1 L322.5 420.5 L320.2 420.7 L318 420.7 L315.8 420.4 L313.8 419.9 L311.9 419.2 L310.1 418.3 L308.4 417.2 L306.8 415.9 L305.4 414.3 L304.1 412.6 L302.9 410.7 L302 408.6 L301.2 406.4 L300.5 404 L300 401.4 L299.7 398.7 L299.6 395.9 L299.7 393 L299.9 390 L300.3 387 L300.8 383.8 L301.6 380.7 L302.4 377.5 L303.5 374.3 L304.7 371 L306.1 367.8 L307.6 364.7 L309.2 361.6 L311 358.5 L312.8 355.5 L314.8 352.7 L316.9 349.9 L319.1 347.2 L321.4 344.7 L323.7 342.3 L326.1 340.1 L328.5 338.1 L331 336.2 L333.4 334.5 L335.9 333 L338.4 331.7 L340.9 330.7 L343.3 329.8 L345.7 329.1 L348.1 328.7 L350.4 328.5 L352.6 328.5 L354.8 328.8 L356.8 329.3 L358.7 330 L360.6 330.9Z" fill="#fff" fill-rule="evenodd" stroke="none"/>
<path d="M366 321.4A61.4 35.4 -60 1 0 304.6 427.8A61.4 35.4 -60 1 0 366 321.4Z" fill="none" stroke="#000" stroke-width="1.3" />
<path d="M361.7 328.9A52.8 30.5 -60 1 0 308.9 420.3A52.8 30.5 -60 1 0 361.7 328.9Z" fill="none" stroke="#000" stroke-width="1.3" />
<path d="M360.6 330.9A50.5 29.1 -60 1 0 310.1 418.3A50.5 29.1 -60 1 0 360.6 330.9Z" fill="none" stroke="#000" stroke-width="1" />
<path d="M361.7 328.9L366 321.4M365 331.4L369.9 324.3M367.8 334.7L373.1 328.2M370 338.7L375.7 332.9M371.6 343.4L377.5 338.4M372.4 348.7L378.5 344.5M372.6 354.5L378.7 351.3M372.1 360.7L378.1 358.4M370.9 367.1L376.7 365.9M369 373.6L374.5 373.5M366.5 380.2L371.6 381.1M363.4 386.7L368 388.6M359.8 392.9L363.8 395.9M355.8 398.8L359.1 402.8M351.3 404.3L353.9 409.1M346.6 409.2L348.4 414.8M341.6 413.4L342.7 419.7M336.6 416.9L336.8 423.8M331.5 419.7L330.8 427M326.5 421.6L325 429.2M321.6 422.6L319.4 430.4M317 422.7L314 430.6M312.7 422L309.1 429.7M308.9 420.3L304.6 427.8M305.6 417.8L300.7 424.9M302.8 414.5L297.5 421M300.6 410.5L294.9 416.3M299 405.8L293.1 410.8M298.2 400.5L292.1 404.7M298 394.7L291.9 397.9M298.5 388.5L292.5 390.8M299.7 382.1L293.9 383.3M301.6 375.6L296.1 375.7M304.1 369L299 368.1M307.2 362.5L302.6 360.6M310.8 356.3L306.8 353.3M314.8 350.4L311.5 346.4M319.3 344.9L316.7 340.1M324 340L322.2 334.4M329 335.8L327.9 329.5M334 332.3L333.8 325.4M339.1 329.5L339.8 322.2M344.1 327.6L345.6 320M349 326.6L351.2 318.8M353.6 326.5L356.6 318.6M357.9 327.2L361.5 319.5" fill="none" stroke="#000" stroke-width="1" />
<path d="M375.6 331.5A57.5 33.2 -60 1 0 318.1 431.1A57.5 33.2 -60 1 0 375.6 331.5Z" fill="#fff" stroke="#000" stroke-width="1" />
<path d="M377.3 332.5A57.5 33.2 -60 1 0 319.8 432.1A57.5 33.2 -60 1 0 377.3 332.5Z" fill="none" stroke="#000" stroke-width="1" />
<path d="M376.3 334.3A55.5 32 -60 1 0 320.8 430.4A55.5 32 -60 1 0 376.3 334.3Z" fill="none" stroke="#000" stroke-width="1" />
<path d="M375.8 336.2A53.5 30.9 -60 1 0 322.3 428.9A53.5 30.9 -60 1 0 375.8 336.2Z" fill="none" stroke="#000" stroke-width="1" />
<path d="M375.2 338.2A51.5 29.7 -60 1 0 323.7 427.4A51.5 29.7 -60 1 0 375.2 338.2Z" fill="none" stroke="#000" stroke-width="1" />
<path d="M385.7 333.6A61 35.2 -60 1 0 324.7 439.2A61 35.2 -60 1 0 385.7 333.6Z" fill="#fff" stroke="#000" stroke-width="1.3" />
<path d="M378.7 345.7 L382.3 341.5 L382.9 341.9 L380.8 347.1 L382.6 348.9 L386.5 345.3 L387 345.9 L384.2 351 L385.6 353.3 L389.7 350.6 L390 351.3 L386.7 356 L387.5 358.9 L391.6 357 L391.8 357.9 L388.1 362.1 L388.4 365.5 L392.3 364.5 L392.3 365.4 L388.4 369 L388.1 372.7 L391.8 372.7 L391.6 373.7 L387.5 376.5 L386.7 380.4 L390 381.4 L389.6 382.4 L385.6 384.3 L384.2 388.3 L387 390.2 L386.5 391.3 L382.6 392.2 L380.8 396.1 L382.9 398.9 L382.3 400 L378.7 400 L376.4 403.7 L377.9 407.2 L377.2 408.2 L374 407.2 L371.4 410.6 L372.1 414.8 L371.4 415.6 L368.6 413.7 L365.7 416.7 L365.7 421.4 L364.9 422.1 L362.8 419.4 L359.8 421.7 L359 426.8 L358.2 427.4 L356.7 423.8 L353.7 425.6 L352.2 430.9 L351.3 431.2 L350.6 427.1 L347.6 428.1 L345.4 433.4 L344.6 433.6 L344.6 428.9 L341.8 429.3 L339 434.3 L338.3 434.3 L339 429.3 L336.4 428.9 L333.2 433.6 L332.5 433.4 L334 428.2 L331.7 427.1 L328.1 431.3 L327.5 430.9 L329.6 425.7 L327.8 423.9 L323.9 427.5 L323.4 426.9 L326.2 421.8 L324.8 419.5 L320.7 422.2 L320.4 421.5 L323.7 416.8 L322.9 413.9 L318.8 415.8 L318.6 414.9 L322.3 410.7 L322 407.3 L318.1 408.3 L318.1 407.4 L322 403.8 L322.3 400.1 L318.6 400.1 L318.8 399.1 L322.9 396.3 L323.7 392.4 L320.4 391.4 L320.8 390.4 L324.8 388.5 L326.2 384.5 L323.4 382.6 L323.9 381.5 L327.8 380.6 L329.6 376.7 L327.5 373.9 L328.1 372.8 L331.7 372.8 L334 369.1 L332.5 365.6 L333.2 364.6 L336.4 365.6 L339 362.2 L338.3 358 L339 357.2 L341.8 359.1 L344.7 356.1 L344.7 351.4 L345.5 350.7 L347.6 353.4 L350.6 351.1 L351.4 346 L352.2 345.4 L353.7 349 L356.7 347.2 L358.2 341.9 L359.1 341.6 L359.8 345.7 L362.8 344.7 L365 339.4 L365.8 339.2 L365.8 343.9 L368.6 343.5 L371.4 338.5 L372.1 338.5 L371.4 343.5 L374 343.9 L377.2 339.2 L377.9 339.4 L376.4 344.6 L378.7 345.7Z" fill="none" stroke="#000" stroke-width="1.2" />
<path d="M344 432.1 L342.3 429.6 L340.8 426.6 L339.7 423.4 L339 419.8 L338.6 415.9 L338.6 411.8 L339 407.5 L339.7 403.1 L340.8 398.6 L342.3 394 L344 389.4 L346.1 384.9 L348.5 380.5 L351.2 376.2 L354 372.1 L357.1 368.3 L360.3 364.7 L363.7 361.5 L367.2 358.7 L370.7 356.2 L374.3 354.1 L377.8 352.5 L381.3 351.4 L384.7 350.7" fill="none" stroke="#000" stroke-width="1" />
<path d="M345.2 430.5 L343.5 428.1 L342.1 425.3 L341.1 422.2 L340.4 418.7 L340 415 L340 411.1 L340.4 407 L341.1 402.7 L342.1 398.4 L343.5 394 L345.2 389.6 L347.2 385.3 L349.5 381 L352 376.9 L354.8 373 L357.7 369.4 L360.9 366 L364.1 362.9 L367.4 360.1 L370.8 357.8 L374.2 355.8 L377.6 354.3 L380.9 353.2 L384.2 352.5" fill="none" stroke="#000" stroke-width="1" />
<path d="M346.4 428.9 L344.8 426.6 L343.5 423.9 L342.5 421 L341.8 417.7 L341.4 414.1 L341.4 410.4 L341.8 406.4 L342.5 402.4 L343.5 398.2 L344.8 394 L346.4 389.8 L348.3 385.7 L350.5 381.6 L352.9 377.7 L355.6 374 L358.4 370.5 L361.4 367.2 L364.5 364.3 L367.6 361.6 L370.9 359.4 L374.1 357.5 L377.4 356 L380.6 355 L383.7 354.3" fill="none" stroke="#000" stroke-width="1" />
<path d="M347.6 427.4 L346 425.1 L344.8 422.6 L343.8 419.7 L343.2 416.6 L342.9 413.2 L342.9 409.6 L343.2 405.9 L343.8 402 L344.8 398 L346.1 394 L347.6 390 L349.4 386.1 L351.5 382.2 L353.8 378.4 L356.3 374.9 L359 371.5 L361.9 368.4 L364.8 365.6 L367.9 363.1 L371 361 L374.1 359.2 L377.2 357.8 L380.2 356.7 L383.1 356.1" fill="none" stroke="#000" stroke-width="1" />
<path d="M373.6 377.5 L379.6 381 L378.1 384 L372.1 380.5Z" fill="#fff" stroke="#000" stroke-width="1" />
<path d="M353.6 408.2 L359.6 411.7 L358.1 414.7 L352.1 411.2Z" fill="#fff" stroke="#000" stroke-width="1" />
<path d="M406.5 344.1 L411.9 336.4 L416.1 341.9 L410.1 348.8Z" fill="#fff" stroke="#000" stroke-width="1.3" />
<path d="M410 346.1 L415.4 338.4 L419.6 343.9 L413.6 350.8Z" fill="#fff" stroke="#000" stroke-width="1.3" />
<path d="M411.9 336.4L415.4 338.4" stroke="#000" stroke-width="1.3" fill="none" />
<path d="M416.1 341.9L419.6 343.9" stroke="#000" stroke-width="1.3" fill="none" />
<path d="M414.6 363.5 L421.3 358.8 L421.5 367.9 L414.8 371.3Z" fill="#fff" stroke="#000" stroke-width="1.3" />
<path d="M418.1 365.5 L424.7 360.8 L425 369.9 L418.3 373.3Z" fill="#fff" stroke="#000" stroke-width="1.3" />
<path d="M421.3 358.8L424.7 360.8" stroke="#000" stroke-width="1.3" fill="none" />
<path d="M421.5 367.9L425 369.9" stroke="#000" stroke-width="1.3" fill="none" />
<path d="M411.2 390.9 L417.4 390.5 L413.6 400.8 L407.9 399.8Z" fill="#fff" stroke="#000" stroke-width="1.3" />
<path d="M414.7 392.9 L420.8 392.5 L417 402.8 L411.4 401.8Z" fill="#fff" stroke="#000" stroke-width="1.3" />
<path d="M417.4 390.5L420.8 392.5" stroke="#000" stroke-width="1.3" fill="none" />
<path d="M413.6 400.8L417 402.8" stroke="#000" stroke-width="1.3" fill="none" />
<path d="M397.3 419.1 L401.2 423 L394.4 431.8 L391.4 426.7Z" fill="#fff" stroke="#000" stroke-width="1.3" />
<path d="M400.7 421.1 L404.7 425 L397.9 433.8 L394.8 428.7Z" fill="#fff" stroke="#000" stroke-width="1.3" />
<path d="M401.2 423L404.7 425" stroke="#000" stroke-width="1.3" fill="none" />
<path d="M394.4 431.8L397.9 433.8" stroke="#000" stroke-width="1.3" fill="none" />
<path d="M376.5 440.5 L377.2 447.7 L369.2 452.6 L369.5 444.7Z" fill="#fff" stroke="#000" stroke-width="1.3" />
<path d="M379.9 442.5 L380.7 449.7 L372.7 454.6 L373 446.7Z" fill="#fff" stroke="#000" stroke-width="1.3" />
<path d="M377.2 447.7L380.7 449.7" stroke="#000" stroke-width="1.3" fill="none" />
<path d="M369.2 452.6L372.7 454.6" stroke="#000" stroke-width="1.3" fill="none" />
<path d="M354.4 449.3 L351.7 458 L344.7 457.7 L348.3 449Z" fill="#fff" stroke="#000" stroke-width="1.3" />
<path d="M357.9 451.3 L355.2 460 L348.1 459.7 L351.8 451Z" fill="#fff" stroke="#000" stroke-width="1.3" />
<path d="M351.7 458L355.2 460" stroke="#000" stroke-width="1.3" fill="none" />
<path d="M344.7 457.7L348.1 459.7" stroke="#000" stroke-width="1.3" fill="none" />
<path d="M337 443.3 L331.6 451 L327.4 445.5 L333.3 438.6Z" fill="#fff" stroke="#000" stroke-width="1.3" />
<path d="M340.4 445.3 L335 453 L330.8 447.5 L336.8 440.6Z" fill="#fff" stroke="#000" stroke-width="1.3" />
<path d="M331.6 451L335 453" stroke="#000" stroke-width="1.3" fill="none" />
<path d="M327.4 445.5L330.8 447.5" stroke="#000" stroke-width="1.3" fill="none" />
<path d="M328.9 423.9 L322.2 428.6 L322 419.5 L328.7 416.1Z" fill="#fff" stroke="#000" stroke-width="1.3" />
<path d="M332.3 425.9 L325.7 430.6 L325.4 421.5 L332.1 418.1Z" fill="#fff" stroke="#000" stroke-width="1.3" />
<path d="M322.2 428.6L325.7 430.6" stroke="#000" stroke-width="1.3" fill="none" />
<path d="M322 419.5L325.4 421.5" stroke="#000" stroke-width="1.3" fill="none" />
<path d="M332.3 396.5 L326.1 396.9 L329.9 386.6 L335.5 387.6Z" fill="#fff" stroke="#000" stroke-width="1.3" />
<path d="M335.7 398.5 L329.6 398.9 L333.4 388.6 L339 389.6Z" fill="#fff" stroke="#000" stroke-width="1.3" />
<path d="M326.1 396.9L329.6 398.9" stroke="#000" stroke-width="1.3" fill="none" />
<path d="M329.9 386.6L333.4 388.6" stroke="#000" stroke-width="1.3" fill="none" />
<path d="M346.2 368.3 L342.2 364.4 L349 355.6 L352.1 360.7Z" fill="#fff" stroke="#000" stroke-width="1.3" />
<path d="M349.7 370.3 L345.7 366.4 L352.5 357.6 L355.6 362.7Z" fill="#fff" stroke="#000" stroke-width="1.3" />
<path d="M342.2 364.4L345.7 366.4" stroke="#000" stroke-width="1.3" fill="none" />
<path d="M349 355.6L352.5 357.6" stroke="#000" stroke-width="1.3" fill="none" />
<path d="M367 346.9 L366.3 339.7 L374.3 334.8 L373.9 342.7Z" fill="#fff" stroke="#000" stroke-width="1.3" />
<path d="M370.5 348.9 L369.7 341.7 L377.7 336.8 L377.4 344.7Z" fill="#fff" stroke="#000" stroke-width="1.3" />
<path d="M366.3 339.7L369.7 341.7" stroke="#000" stroke-width="1.3" fill="none" />
<path d="M374.3 334.8L377.7 336.8" stroke="#000" stroke-width="1.3" fill="none" />
<path d="M389.1 338.1 L391.8 329.4 L398.8 329.7 L395.2 338.4Z" fill="#fff" stroke="#000" stroke-width="1.3" />
<path d="M392.5 340.1 L395.2 331.4 L402.3 331.7 L398.6 340.4Z" fill="#fff" stroke="#000" stroke-width="1.3" />
<path d="M391.8 329.4L395.2 331.4" stroke="#000" stroke-width="1.3" fill="none" />
<path d="M398.8 329.7L402.3 331.7" stroke="#000" stroke-width="1.3" fill="none" />
<path d="M404.3 340.9 L406.4 342.3 L408.3 343.9 L410.1 345.8 L411.6 347.9 L413 350.3 L414.2 352.8 L415.2 355.6 L416 358.5 L416.6 361.7 L417 365 L417.1 368.4 L417.1 372 L416.8 375.6 L416.3 379.4 L415.6 383.2 L414.7 387.1 L413.6 391.1 L412.3 395 L410.9 399 L409.2 402.9 L407.3 406.8 L405.3 410.6 L403.2 414.3 L400.9 418 L398.4 421.5 L395.9 424.9 L393.2 428.2 L390.4 431.3 L387.6 434.2 L384.6 436.9 L381.6 439.5 L378.6 441.8 L375.6 443.8 L372.5 445.6 L369.5 447.2 L366.4 448.6 L363.4 449.6 L360.5 450.4 L357.6 450.9 L354.8 451.2 L352 451.1 L349.4 450.8 L346.9 450.3 L344.5 449.4 L342.3 448.3 L340.2 446.9 L338.3 445.3 L336.5 443.4 L335 441.3 L333.6 438.9 L332.4 436.4 L331.4 433.6 L330.6 430.7 L330 427.5 L329.6 424.2 L329.5 420.8 L329.5 417.2 L329.8 413.6 L330.3 409.8 L331 406 L331.9 402.1 L333 398.1 L334.3 394.2 L335.7 390.2 L337.4 386.3 L339.2 382.4 L341.3 378.6 L343.4 374.9 L345.7 371.2 L348.2 367.7 L350.7 364.3 L353.4 361 L356.2 357.9 L359 355 L362 352.3 L364.9 349.7 L368 347.4 L371 345.4 L374.1 343.6 L377.1 342 L380.2 340.6 L383.2 339.6 L386.1 338.8 L389 338.3 L391.8 338 L394.6 338.1 L397.2 338.4 L399.7 338.9 L402.1 339.8 L404.3 340.9Z M400.9 351.1 L402.7 352.2 L404.3 353.6 L405.7 355.2 L407 356.9 L408.2 358.9 L409.2 361 L410 363.3 L410.7 365.8 L411.2 368.4 L411.5 371.1 L411.6 373.9 L411.6 376.9 L411.3 379.9 L410.9 383.1 L410.4 386.3 L409.6 389.5 L408.7 392.8 L407.6 396 L406.4 399.3 L405 402.6 L403.5 405.8 L401.8 409 L400 412.1 L398.1 415.1 L396.1 418.1 L393.9 420.9 L391.7 423.6 L389.4 426.2 L387 428.6 L384.6 430.9 L382.1 433 L379.6 434.9 L377.1 436.6 L374.6 438.1 L372 439.4 L369.5 440.5 L367 441.4 L364.5 442.1 L362.1 442.5 L359.8 442.7 L357.5 442.7 L355.4 442.4 L353.3 441.9 L351.3 441.2 L349.4 440.3 L347.7 439.2 L346.1 437.8 L344.7 436.2 L343.4 434.5 L342.2 432.5 L341.2 430.4 L340.4 428.1 L339.7 425.6 L339.2 423 L338.9 420.3 L338.8 417.5 L338.8 414.5 L339.1 411.5 L339.5 408.3 L340 405.1 L340.8 401.9 L341.7 398.6 L342.8 395.4 L344 392.1 L345.4 388.8 L346.9 385.6 L348.6 382.4 L350.4 379.3 L352.3 376.3 L354.3 373.3 L356.5 370.5 L358.7 367.8 L361 365.2 L363.4 362.8 L365.8 360.5 L368.3 358.4 L370.8 356.5 L373.3 354.8 L375.8 353.3 L378.4 352 L380.9 350.9 L383.4 350 L385.9 349.3 L388.3 348.9 L390.6 348.7 L392.9 348.7 L395 349 L397.1 349.5 L399.1 350.2 L400.9 351.1Z" fill="#fff" fill-rule="evenodd" stroke="none"/>
<path d="M404.3 340.9A62 35.8 -60 1 0 342.3 448.3A62 35.8 -60 1 0 404.3 340.9Z" fill="none" stroke="#000" stroke-width="1.3" />
<path d="M406.2 342 L408.3 343.4 L410.2 345 L412 346.9 L413.5 349 L414.9 351.4 L416.1 353.9 L417.1 356.7 L417.9 359.6 L418.5 362.8 L418.9 366.1 L419 369.5 L419 373.1 L418.7 376.7 L418.2 380.5 L417.5 384.3 L416.6 388.2 L415.5 392.2 L414.2 396.1 L412.8 400.1 L411.1 404 L409.3 407.9 L407.2 411.7 L405.1 415.4 L402.8 419.1 L400.3 422.6 L397.8 426 L395.1 429.3 L392.3 432.4 L389.5 435.3 L386.5 438 L383.5 440.6 L380.5 442.9 L377.5 444.9 L374.4 446.7 L371.4 448.3 L368.3 449.7 L365.3 450.7 L362.4 451.5 L359.5 452 L356.7 452.3 L353.9 452.2 L351.3 451.9 L348.8 451.4 L346.4 450.5 L344.2 449.4 L342.1 448 L340.2 446.4 L338.4 444.5 L336.9 442.4 L335.5 440 L334.3 437.5 L333.3 434.7 L332.5 431.8 L331.9 428.6 L331.5 425.3 L331.4 421.9 L331.4 418.3 L331.7 414.7 L332.2 410.9 L332.9 407.1 L333.8 403.2 L334.9 399.2 L336.2 395.3 L337.6 391.3 L339.3 387.4 L341.1 383.5 L343.2 379.7 L345.3 376 L347.6 372.3 L350.1 368.8 L352.6 365.4 L355.3 362.1 L358.1 359 L360.9 356.1 L363.9 353.4 L366.9 350.8 L369.9 348.5 L372.9 346.5 L376 344.7 L379 343.1 L382.1 341.7 L385.1 340.7 L388 339.9 L390.9 339.4 L393.7 339.1 L396.5 339.2 L399.1 339.5 L401.6 340 L404 340.9 L406.2 342Z M400.9 351.1 L402.7 352.2 L404.3 353.6 L405.7 355.2 L407 356.9 L408.2 358.9 L409.2 361 L410 363.3 L410.7 365.8 L411.2 368.4 L411.5 371.1 L411.6 373.9 L411.6 376.9 L411.3 379.9 L410.9 383.1 L410.4 386.3 L409.6 389.5 L408.7 392.8 L407.6 396 L406.4 399.3 L405 402.6 L403.5 405.8 L401.8 409 L400 412.1 L398.1 415.1 L396.1 418.1 L393.9 420.9 L391.7 423.6 L389.4 426.2 L387 428.6 L384.6 430.9 L382.1 433 L379.6 434.9 L377.1 436.6 L374.6 438.1 L372 439.4 L369.5 440.5 L367 441.4 L364.5 442.1 L362.1 442.5 L359.8 442.7 L357.5 442.7 L355.4 442.4 L353.3 441.9 L351.3 441.2 L349.4 440.3 L347.7 439.2 L346.1 437.8 L344.7 436.2 L343.4 434.5 L342.2 432.5 L341.2 430.4 L340.4 428.1 L339.7 425.6 L339.2 423 L338.9 420.3 L338.8 417.5 L338.8 414.5 L339.1 411.5 L339.5 408.3 L340 405.1 L340.8 401.9 L341.7 398.6 L342.8 395.4 L344 392.1 L345.4 388.8 L346.9 385.6 L348.6 382.4 L350.4 379.3 L352.3 376.3 L354.3 373.3 L356.5 370.5 L358.7 367.8 L361 365.2 L363.4 362.8 L365.8 360.5 L368.3 358.4 L370.8 356.5 L373.3 354.8 L375.8 353.3 L378.4 352 L380.9 350.9 L383.4 350 L385.9 349.3 L388.3 348.9 L390.6 348.7 L392.9 348.7 L395 349 L397.1 349.5 L399.1 350.2 L400.9 351.1Z" fill="#fff" fill-rule="evenodd" stroke="none"/>
<path d="M406.2 342A62 35.8 -60 1 0 344.2 449.4A62 35.8 -60 1 0 406.2 342Z" fill="none" stroke="#000" stroke-width="1.3" />
<path d="M402.4 348.5A54.5 31.4 -60 1 0 347.9 442.9A54.5 31.4 -60 1 0 402.4 348.5Z" fill="none" stroke="#000" stroke-width="1.3" />
<path d="M400.9 351.1A51.5 29.7 -60 1 0 349.4 440.3A51.5 29.7 -60 1 0 400.9 351.1Z" fill="none" stroke="#000" stroke-width="1" />
<path d="M402.4 348.5L406.2 342M405.9 351.1L410.1 344.9M408.8 354.5L413.4 348.8M411 358.7L416 353.6M412.6 363.5L417.8 359.1M413.5 369L418.8 365.3M413.7 375L419 372.1M413.2 381.3L418.4 379.3M411.9 387.9L417 386.9M410 394.7L414.8 394.6M407.4 401.5L411.8 402.3M404.2 408.2L408.2 409.9M400.5 414.6L404 417.2M396.3 420.7L399.2 424.1M391.7 426.3L394 430.5M386.8 431.4L388.4 436.3M381.7 435.8L382.6 441.3M376.5 439.4L376.7 445.4M371.2 442.2L370.7 448.6M366.1 444.2L364.8 450.9M361.1 445.3L359.1 452.1M356.3 445.4L353.7 452.2M351.9 444.6L348.7 451.3M347.9 442.9L344.2 449.4M344.5 440.3L340.3 446.5M341.6 436.9L337 442.6M339.4 432.7L334.4 437.8M337.8 427.9L332.6 432.3M336.9 422.4L331.6 426.1M336.7 416.4L331.4 419.3M337.2 410.1L332 412.1M338.5 403.5L333.4 404.5M340.4 396.7L335.6 396.8M343 389.9L338.6 389.1M346.2 383.2L342.2 381.5M349.9 376.8L346.4 374.2M354.1 370.7L351.2 367.3M358.7 365.1L356.4 360.9M363.6 360L362 355.1M368.7 355.6L367.8 350.1M373.9 352L373.7 346M379.2 349.2L379.7 342.8M384.3 347.2L385.6 340.5M389.3 346.1L391.3 339.3M394.1 346L396.7 339.2M398.5 346.8L401.7 340.1" fill="none" stroke="#000" stroke-width="1" />
<path d="M434.2 103.2A67 38.7 -60 1 0 367.2 219.2A67 38.7 -60 1 0 434.2 103.2Z" fill="#fff" stroke="#000" stroke-width="1.3" />
<path d="M435.9 104.2A67 38.7 -60 1 0 368.9 220.2A67 38.7 -60 1 0 435.9 104.2Z" fill="#fff" stroke="#000" stroke-width="1.3" />
<path d="M433.9 107.6A63 36.4 -60 1 0 370.9 216.8A63 36.4 -60 1 0 433.9 107.6Z" fill="none" stroke="#000" stroke-width="1.3" />
<path d="M430.5 115.5A54.5 31.4 -60 1 0 376 209.9A54.5 31.4 -60 1 0 430.5 115.5Z" fill="none" stroke="#000" stroke-width="1.3" />
<path d="M429.5 118.2A51.7 29.8 -60 1 0 377.8 207.7A51.7 29.8 -60 1 0 429.5 118.2Z" fill="none" stroke="#000" stroke-width="1.3" />
<path d="M425.1 126.8 L429.2 121.7 L430.6 122.7 L427.7 128.7 L429.8 131.2 L434.4 127.1 L435.3 128.8 L431.6 134.2 L432.8 137.8 L437.5 135 L437.9 137.1 L433.6 141.7 L433.8 146 L438.4 144.8 L438.3 147.3 L433.6 150.7 L432.8 155.5 L436.9 155.8 L436.2 158.5 L431.6 160.5 L429.8 165.5 L433.2 167.4 L432 170.1 L427.7 170.5 L425.1 175.3 L427.5 178.6 L425.9 181.2 L422.2 180 L419 184.3 L420.2 188.9 L418.3 191 L415.5 188.3 L411.8 191.9 L411.8 197.3 L409.8 199 L408 195 L404.1 197.5 L402.9 203.5 L400.8 204.5 L400.2 199.4 L396.4 200.8 L394.1 206.9 L392.1 207.2 L392.8 201.4 L389.3 201.5 L386 207.3 L384.2 206.9 L386.1 200.8 L383.1 199.6 L379.1 204.7 L377.7 203.7 L380.6 197.7 L378.4 195.2 L373.9 199.3 L372.9 197.6 L376.7 192.2 L375.5 188.6 L370.7 191.4 L370.3 189.3 L374.7 184.7 L374.4 180.4 L369.9 181.6 L370 179.1 L374.7 175.7 L375.5 170.9 L371.3 170.6 L372 167.9 L376.7 165.9 L378.4 160.9 L375.1 159 L376.2 156.3 L380.6 155.9 L383.1 151.1 L380.8 147.8 L382.3 145.2 L386.1 146.4 L389.3 142.1 L388 137.5 L389.9 135.4 L392.8 138.1 L396.5 134.5 L396.4 129.1 L398.5 127.4 L400.3 131.4 L404.1 128.9 L405.3 122.9 L407.4 121.9 L408 127 L411.8 125.6 L414.2 119.5 L416.1 119.2 L415.5 125 L419 124.9 L422.3 119.1 L424 119.5 L422.2 125.6 L425.1 126.8Z" fill="none" stroke="#000" stroke-width="1.4" />
<path d="M423.2 132.2A36.4 21 -60 1 0 386.8 195.2A36.4 21 -60 1 0 423.2 132.2Z" fill="none" stroke="#000" stroke-width="1.3" />
<path d="M412 153.7A9 5.2 -60 1 0 403 169.3A9 5.2 -60 1 0 412 153.7Z" fill="#fff" stroke="#000" stroke-width="1.3" />
<path d="M413.5 151.1A12 6.9 -60 1 0 401.5 171.9A12 6.9 -60 1 0 413.5 151.1Z" fill="none" stroke="#000" stroke-width="1.3" />
<path d="M445.4 142 L426.4 131 L426.4 131 L425.4 130.6 L424.3 130.5 L423.1 130.7 L421.9 131.2 L420.6 131.9 L419.4 132.9 L418.2 134.1 L417.1 135.4 L416.1 136.9 L415.3 138.5 L414.6 140.2 L414.2 141.8 L414 143.4 L414 144.8 L414.2 146.1 L414.6 147.3 L415.3 148.2 L416.1 148.8 L435.2 159.8Z" fill="#fff" stroke="#000" stroke-width="1.3" />
<path d="M445.4 142A10.3 5.9 -60 1 0 435.2 159.8A10.3 5.9 -60 1 0 445.4 142Z" fill="#fff" stroke="#000" stroke-width="1.3" />
<path d="M443.1 146.1A5.5 3.2 -60 1 0 437.6 155.7A5.5 3.2 -60 1 0 443.1 146.1Z" fill="#fff" stroke="#000" stroke-width="1.3" />
<path d="M426.8 138 L407.7 127 L407.7 127 L406.7 126.6 L405.6 126.5 L404.4 126.7 L403.2 127.2 L401.9 127.9 L400.7 128.9 L399.5 130.1 L398.4 131.4 L397.4 132.9 L396.6 134.5 L395.9 136.2 L395.5 137.8 L395.3 139.4 L395.3 140.8 L395.5 142.1 L395.9 143.3 L396.6 144.2 L397.4 144.8 L416.5 155.8Z" fill="#fff" stroke="#000" stroke-width="1.3" />
<path d="M426.8 138A10.3 5.9 -60 1 0 416.5 155.8A10.3 5.9 -60 1 0 426.8 138Z" fill="#fff" stroke="#000" stroke-width="1.3" />
<path d="M424.4 142.1A5.5 3.2 -60 1 0 418.9 151.7A5.5 3.2 -60 1 0 424.4 142.1Z" fill="#fff" stroke="#000" stroke-width="1.3" />
<path d="M438.5 173.4 L419.5 162.4 L419.5 162.4 L418.5 162 L417.4 161.9 L416.2 162.1 L415 162.6 L413.7 163.3 L412.5 164.3 L411.3 165.5 L410.2 166.8 L409.2 168.3 L408.4 169.9 L407.7 171.6 L407.3 173.2 L407.1 174.8 L407.1 176.2 L407.3 177.5 L407.7 178.7 L408.4 179.6 L409.2 180.2 L428.2 191.2Z" fill="#fff" stroke="#000" stroke-width="1.3" />
<path d="M438.5 173.4A10.3 5.9 -60 1 0 428.2 191.2A10.3 5.9 -60 1 0 438.5 173.4Z" fill="#fff" stroke="#000" stroke-width="1.3" />
<path d="M436.1 177.5A5.5 3.2 -60 1 0 430.6 187.1A5.5 3.2 -60 1 0 436.1 177.5Z" fill="#fff" stroke="#000" stroke-width="1.3" />
<path d="M406.1 165.6 L387.1 154.6 L387.1 154.6 L386.1 154.2 L385 154.1 L383.8 154.3 L382.6 154.8 L381.3 155.5 L380.1 156.5 L378.9 157.7 L377.8 159 L376.8 160.5 L376 162.1 L375.3 163.8 L374.9 165.4 L374.7 167 L374.7 168.4 L374.9 169.7 L375.3 170.9 L376 171.8 L376.8 172.4 L395.9 183.4Z" fill="#fff" stroke="#000" stroke-width="1.3" />
<path d="M406.1 165.6A10.3 5.9 -60 1 0 395.9 183.4A10.3 5.9 -60 1 0 406.1 165.6Z" fill="#fff" stroke="#000" stroke-width="1.3" />
<path d="M403.8 169.7A5.5 3.2 -60 1 0 398.2 179.3A5.5 3.2 -60 1 0 403.8 169.7Z" fill="#fff" stroke="#000" stroke-width="1.3" />
<path d="M411 192.1 L392 181.1 L392 181.1 L391 180.7 L389.9 180.6 L388.7 180.8 L387.5 181.3 L386.2 182 L385 183 L383.8 184.2 L382.7 185.5 L381.7 187 L380.9 188.6 L380.2 190.3 L379.8 191.9 L379.6 193.5 L379.6 194.9 L379.8 196.2 L380.2 197.4 L380.9 198.3 L381.7 198.9 L400.8 209.9Z" fill="#fff" stroke="#000" stroke-width="1.3" />
<path d="M411 192.1A10.3 5.9 -60 1 0 400.8 209.9A10.3 5.9 -60 1 0 411 192.1Z" fill="#fff" stroke="#000" stroke-width="1.3" />
<path d="M408.6 196.2A5.5 3.2 -60 1 0 403.1 205.8A5.5 3.2 -60 1 0 408.6 196.2Z" fill="#fff" stroke="#000" stroke-width="1.3" />
<path d="M418.7 171.5L424.6 174.5" stroke="#000" stroke-width="1.3" fill="none" />
<path d="M267.1 111.4 L267.1 116.8 L263 121.8 L259 121.5 L259 116.1 L263 111.1Z" fill="#fff" stroke="#000" stroke-width="1.3" />
<path d="M267.1 111.4 L267.1 116.8 L270.1 118.6 L270.1 113.2Z" fill="#fff" stroke="#000" stroke-width="1" />
<path d="M267.1 116.8 L263 121.8 L266.1 123.6 L270.1 118.6Z" fill="#fff" stroke="#000" stroke-width="1" />
<path d="M263 121.8 L259 121.5 L262 123.2 L266.1 123.6Z" fill="#fff" stroke="#000" stroke-width="1" />
<path d="M259 121.5 L259 116.1 L262 117.8 L262 123.2Z" fill="#fff" stroke="#000" stroke-width="1" />
<path d="M259 116.1 L263 111.1 L266.1 112.8 L262 117.8Z" fill="#fff" stroke="#000" stroke-width="1" />
<path d="M263 111.1 L267.1 111.4 L270.1 113.2 L266.1 112.8Z" fill="#fff" stroke="#000" stroke-width="1" />
<path d="M270.6 111.3A8.2 4.7 -60 1 0 262.4 125.6A8.2 4.7 -60 1 0 270.6 111.3Z" fill="#fff" stroke="#000" stroke-width="1.3" />
<path d="M271.9 112.1A8.2 4.7 -60 1 0 263.7 126.3A8.2 4.7 -60 1 0 271.9 112.1Z" fill="#fff" stroke="#000" stroke-width="1.3" />
<path d="M288.9 127.6 L270.7 117.1 L270.7 117.1 L270.4 117 L270.1 116.9 L269.7 117 L269.3 117.1 L268.9 117.4 L268.5 117.7 L268.1 118.1 L267.8 118.5 L267.4 119 L267.2 119.5 L267 120 L266.8 120.6 L266.8 121.1 L266.8 121.5 L266.8 121.9 L267 122.3 L267.2 122.6 L267.4 122.8 L285.6 133.3Z" fill="#fff" stroke="#000" stroke-width="1.3" />
<path d="M288.9 127.6A3.3 1.9 -60 1 0 285.6 133.3A3.3 1.9 -60 1 0 288.9 127.6Z" fill="#fff" stroke="#000" stroke-width="1.3" />
<path d="M286.9 126.4 L287.4 126.9 L287.6 127.7 L287.5 128.7 L287.2 129.7 L286.6 130.7 L285.9 131.6 L285.1 132.1 L284.3 132.3 L283.6 132.2M285 125.3 L285.4 125.8 L285.6 126.6 L285.6 127.5 L285.2 128.6 L284.6 129.6 L283.9 130.4 L283.1 131 L282.3 131.2 L281.7 131M283 124.1 L283.4 124.6 L283.6 125.4 L283.6 126.4 L283.2 127.4 L282.6 128.4 L281.9 129.3 L281.1 129.8 L280.3 130 L279.7 129.9M281 123 L281.4 123.5 L281.6 124.3 L281.6 125.2 L281.2 126.3 L280.7 127.3 L279.9 128.1 L279.1 128.7 L278.3 128.9 L277.7 128.7M279 121.8 L279.4 122.3 L279.6 123.1 L279.6 124.1 L279.2 125.1 L278.7 126.1 L277.9 127 L277.1 127.5 L276.3 127.7 L275.7 127.6M277 120.7 L277.4 121.2 L277.7 122 L277.6 122.9 L277.2 124 L276.7 125 L275.9 125.8 L275.1 126.4 L274.3 126.6 L273.7 126.4M275 119.5 L275.5 120 L275.7 120.8 L275.6 121.8 L275.3 122.8 L274.7 123.8 L273.9 124.7 L273.1 125.2 L272.4 125.4 L271.7 125.3M273 118.4 L273.5 118.9 L273.7 119.7 L273.6 120.6 L273.3 121.7 L272.7 122.7 L272 123.5 L271.1 124.1 L270.4 124.3 L269.7 124.1" fill="none" stroke="#000" stroke-width="1" />
<path d="M316.3 140.5A9.6 5.5 -60 1 0 306.7 157.1A9.6 5.5 -60 1 0 316.3 140.5Z" fill="#fff" stroke="#000" stroke-width="1.5" />
<path d="M319.7 142.3A9.6 5.5 -60 1 0 310.1 158.9A9.6 5.5 -60 1 0 319.7 142.3Z" fill="#fff" stroke="#000" stroke-width="1.5" />
<path d="M323.1 144A9.6 5.5 -60 1 0 313.4 160.7A9.6 5.5 -60 1 0 323.1 144Z" fill="#fff" stroke="#000" stroke-width="1.5" />
<path d="M326.4 145.8A9.6 5.5 -60 1 0 316.8 162.4A9.6 5.5 -60 1 0 326.4 145.8Z" fill="#fff" stroke="#000" stroke-width="1.5" />
<path d="M329.8 147.6A9.6 5.5 -60 1 0 320.2 164.2A9.6 5.5 -60 1 0 329.8 147.6Z" fill="#fff" stroke="#000" stroke-width="1.5" />
<path d="M333.2 149.4A9.6 5.5 -60 1 0 323.6 166A9.6 5.5 -60 1 0 333.2 149.4Z" fill="#fff" stroke="#000" stroke-width="1.5" />
<path d="M336.6 151.1A9.6 5.5 -60 1 0 326.9 167.8A9.6 5.5 -60 1 0 336.6 151.1Z" fill="#fff" stroke="#000" stroke-width="1.5" />
<path d="M339.9 152.9A9.6 5.5 -60 1 0 330.3 169.5A9.6 5.5 -60 1 0 339.9 152.9Z" fill="#fff" stroke="#000" stroke-width="1.5" />
<path d="M343.3 154.7A9.6 5.5 -60 1 0 333.7 171.3A9.6 5.5 -60 1 0 343.3 154.7Z" fill="#fff" stroke="#000" stroke-width="1.5" />
<path d="M341.8 157.3A6.6 3.8 -60 1 0 335.2 168.7A6.6 3.8 -60 1 0 341.8 157.3Z" fill="none" stroke="#000" stroke-width="1.1" />
<path d="M340.6 159.4A4.2 2.4 -60 1 0 336.4 166.6A4.2 2.4 -60 1 0 340.6 159.4Z" fill="none" stroke="#000" stroke-width="1.1" />
<path d="M465.1 179.6A16.7 9.6 -60 1 0 448.4 208.6A16.7 9.6 -60 1 0 465.1 179.6Z" fill="#fff" stroke="#000" stroke-width="1.3" />
<path d="M466.7 180.5A16.7 9.6 -60 1 0 449.9 209.5A16.7 9.6 -60 1 0 466.7 180.5Z" fill="#fff" stroke="#000" stroke-width="1.3" />
<path d="M462.2 188.3A7.7 4.4 -60 1 0 454.4 201.7A7.7 4.4 -60 1 0 462.2 188.3Z" fill="none" stroke="#000" stroke-width="1.3" />
<path d="M451.8 199.6 L451.5 198.8 L451.3 197.8 L451.3 196.7 L451.5 195.5 L451.8 194.3 L452.3 193.1 L452.9 191.9 L453.6 190.8 L454.4 189.7 L455.3 188.8 L456.3 188.1 L457.2 187.6 L458.2 187.2 L459 187.1" fill="none" stroke="#000" stroke-width="1" />
<path d="M487.1 192.4A17 9.8 -60 1 0 470.1 221.9A17 9.8 -60 1 0 487.1 192.4Z" fill="#fff" stroke="#000" stroke-width="1.3" />
<path d="M488.4 193.2A17 9.8 -60 1 0 471.4 222.6A17 9.8 -60 1 0 488.4 193.2Z" fill="#fff" stroke="#000" stroke-width="1.3" />
<path d="M487.1 195.3A14.5 8.4 -60 1 0 472.6 220.5A14.5 8.4 -60 1 0 487.1 195.3Z" fill="none" stroke="#000" stroke-width="1" />
<path d="M484.5 199.9A9.2 5.3 -60 1 0 475.3 215.9A9.2 5.3 -60 1 0 484.5 199.9Z" fill="none" stroke="#000" stroke-width="1" />
<path d="M483.6 201.5A7.4 4.3 -60 1 0 476.2 214.3A7.4 4.3 -60 1 0 483.6 201.5Z" fill="none" stroke="#000" stroke-width="1.3" />
<path d="M485.2 199.7L487.4 196.3M486.5 201.7L489.2 199.1M486.8 204.6L489.6 203.3M486 208L488.6 208.1M484.4 211.5L486.2 212.9M482 214.3L482.8 216.9M479.3 216.2L479 219.6M476.7 216.8L475.4 220.5M474.6 216.1L472.4 219.5M473.3 214.1L470.6 216.7M473 211.2L470.2 212.5M473.8 207.8L471.2 207.7M475.4 204.3L473.6 202.9M477.8 201.5L477 198.9M480.5 199.6L480.8 196.2M483.1 199L484.4 195.3" fill="none" stroke="#000" stroke-width="2" />
<path d="M522.4 221.5 L501.6 209.5 L501.6 209.5 L500.8 209.2 L499.9 209.1 L498.9 209.3 L497.9 209.7 L496.9 210.3 L495.8 211.1 L494.8 212.1 L493.9 213.2 L493.1 214.4 L492.5 215.8 L491.9 217.1 L491.6 218.5 L491.4 219.8 L491.4 221 L491.6 222 L491.9 223 L492.5 223.7 L493.1 224.3 L513.9 236.3Z" fill="#fff" stroke="#000" stroke-width="1.3" />
<path d="M522.4 221.5A8.5 4.9 -60 1 0 513.9 236.3A8.5 4.9 -60 1 0 522.4 221.5Z" fill="#fff" stroke="#000" stroke-width="1.3" />
<path d="M499 210.5L499.8 213.1M502.3 212.2L503.1 214.8M505.6 213.9L506.4 216.5M508.9 215.6L509.7 218.2M512.2 217.3L513 219.9" fill="none" stroke="#000" stroke-width="1.6" />
<path d="M497 212.5a1.6 2 0 1 0 2 -1.5" fill="none" stroke="#000" stroke-width="1.1" />
<path d="M526.4 214.6A16.5 9.5 -60 1 0 509.9 243.2A16.5 9.5 -60 1 0 526.4 214.6Z" fill="#fff" stroke="#000" stroke-width="1.3" />
<path d="M528.1 215.6A16.5 9.5 -60 1 0 511.6 244.2A16.5 9.5 -60 1 0 528.1 215.6Z" fill="#fff" stroke="#000" stroke-width="1.3" />
<path d="M454.9 234.9 L454.9 239 L451.9 242.8 L448.8 242.5 L448.8 238.4 L451.9 234.6Z" fill="#fff" stroke="#000" stroke-width="1.3" />
<path d="M454.9 234.9 L454.9 239 L457.3 240.3 L457.3 236.2Z" fill="#fff" stroke="#000" stroke-width="1" />
<path d="M454.9 239 L451.9 242.8 L454.2 244.1 L457.3 240.3Z" fill="#fff" stroke="#000" stroke-width="1" />
<path d="M451.9 242.8 L448.8 242.5 L451.1 243.9 L454.2 244.1Z" fill="#fff" stroke="#000" stroke-width="1" />
<path d="M448.8 242.5 L448.8 238.4 L451.1 239.8 L451.1 243.9Z" fill="#fff" stroke="#000" stroke-width="1" />
<path d="M448.8 238.4 L451.9 234.6 L454.2 236 L451.1 239.8Z" fill="#fff" stroke="#000" stroke-width="1" />
<path d="M451.9 234.6 L454.9 234.9 L457.3 236.2 L454.2 236Z" fill="#fff" stroke="#000" stroke-width="1" />
<path d="M457.6 234.8A6.2 3.6 -60 1 0 451.4 245.6A6.2 3.6 -60 1 0 457.6 234.8Z" fill="#fff" stroke="#000" stroke-width="1.3" />
<path d="M458.6 235.4A6.2 3.6 -60 1 0 452.4 246.2A6.2 3.6 -60 1 0 458.6 235.4Z" fill="#fff" stroke="#000" stroke-width="1.3" />
<path d="M469.1 245.2 L457.9 238.7 L457.9 238.7 L457.6 238.6 L457.3 238.6 L456.9 238.6 L456.6 238.8 L456.2 239 L455.8 239.3 L455.5 239.6 L455.1 240 L454.9 240.4 L454.6 240.9 L454.4 241.4 L454.3 241.8 L454.3 242.3 L454.3 242.7 L454.3 243.1 L454.4 243.4 L454.6 243.7 L454.9 243.9 L466.1 250.4Z" fill="#fff" stroke="#000" stroke-width="1.3" />
<path d="M469.1 245.2A3 1.7 -60 1 0 466.1 250.4A3 1.7 -60 1 0 469.1 245.2Z" fill="#fff" stroke="#000" stroke-width="1.3" />
<path d="M466.9 243.9 L467.4 244.7 L467.4 246 L466.9 247.4 L465.9 248.5 L464.8 249.2 L463.9 249.1M464.6 242.6 L465.2 243.4 L465.2 244.7 L464.6 246.1 L463.7 247.2 L462.6 247.9 L461.6 247.8M462.4 241.3 L462.9 242.1 L462.9 243.4 L462.4 244.8 L461.4 245.9 L460.3 246.6 L459.4 246.5M460.1 240 L460.7 240.8 L460.7 242.1 L460.1 243.5 L459.2 244.6 L458.1 245.3 L457.1 245.2" fill="none" stroke="#000" stroke-width="1.3" />
<path d="M470.3 247.6 L468.1 246.4 L468.1 246.4 L468 246.3 L467.8 246.3 L467.6 246.3 L467.5 246.4 L467.3 246.5 L467.1 246.6 L466.9 246.8 L466.8 247 L466.6 247.2 L466.5 247.4 L466.4 247.7 L466.3 247.9 L466.3 248.2 L466.3 248.4 L466.3 248.6 L466.4 248.7 L466.5 248.9 L466.6 248.9 L468.8 250.2Z" fill="#fff" stroke="#000" stroke-width="1" />
<path d="M470.3 247.6A1.5 0.9 -60 1 0 468.8 250.2A1.5 0.9 -60 1 0 470.3 247.6Z" fill="#fff" stroke="#000" stroke-width="1" />
<path d="M485.4 249.2A8.6 5 -60 1 0 476.8 264.1A8.6 5 -60 1 0 485.4 249.2Z" fill="#fff" stroke="#000" stroke-width="1.3" />
<path d="M486.7 250A8.6 5 -60 1 0 478.1 264.8A8.6 5 -60 1 0 486.7 250Z" fill="#fff" stroke="#000" stroke-width="1.5" />
<path d="M485.2 252.6A5.6 3.2 -60 1 0 479.6 262.2A5.6 3.2 -60 1 0 485.2 252.6Z" fill="none" stroke="#000" stroke-width="1" />
<path d="M484.1 254.5A3.4 2 -60 1 0 480.7 260.3A3.4 2 -60 1 0 484.1 254.5Z" fill="none" stroke="#000" stroke-width="1.4" />
<ellipse cx="557.1" cy="102.2" rx="7.8" ry="4.4" fill="#fff" stroke="#000" stroke-width="1.3"/>
<ellipse cx="557.1" cy="101.2" rx="7.8" ry="4.4" fill="#fff" stroke="#000" stroke-width="1.6"/>
<ellipse cx="557.1" cy="101.2" rx="4.2" ry="2" fill="none" stroke="#000" stroke-width="1.3"/>
<path d="M549.5 100.5l2.5 -2.5l3 0.8" fill="none" stroke="#000" stroke-width="1.3" />
<ellipse cx="557.8" cy="114.6" rx="6.9" ry="4.2" fill="#fff" stroke="#000" stroke-width="1.3"/>
<ellipse cx="557.8" cy="113.3" rx="6.9" ry="4.2" fill="#fff" stroke="#000" stroke-width="1.7"/>
<ellipse cx="557.8" cy="113.3" rx="3.6" ry="1.7" fill="none" stroke="#000" stroke-width="1.4"/>
<path d="M556.4 142.5L556.4 152.5L564 157.3L580 147L580 137.5L571.5 133.5Z" fill="#fff" stroke="#000" stroke-width="1.3" />
<path d="M564 157.3L564 147.5L556.4 142.5M564 147.5L580 137.5" fill="none" stroke="#000" stroke-width="1.3" />
<path d="M559 146.5l0 5.5l3 1.8M567 149.5l0 4l8 -5l0 -4M567 149.5l8-5" fill="none" stroke="#000" stroke-width="1.1" />
<path d="M561 138l4 5.5M566 136l3.5 4.5l6-3.5" fill="none" stroke="#000" stroke-width="1.2" />
<path d="M551 129L551 133.5Q553 136.5 558 137L572 140.5L581 136L581 132.5L565 126Z" fill="#fff" stroke="#000" stroke-width="1.3" />
<path d="M550.8 125.6L550.8 132.5A7 3.9 0 0 0 564.8 132.5L564.8 125.6" fill="#fff" stroke="#000" stroke-width="1.3" />
<ellipse cx="557.8" cy="125.6" rx="7" ry="3.9" fill="#fff" stroke="#000" stroke-width="1.3"/>
<ellipse cx="557.8" cy="125.6" rx="4.6" ry="2.3" fill="none" stroke="#000" stroke-width="1.2"/>
<path d="M555.3 124v3.4M557 123.6v4.2M558.7 123.6v4.2M560.4 124v3.4" fill="none" stroke="#000" stroke-width="1" />
<path d="M573.4 132.6L573.4 136.5A3.4 1.9 0 0 0 580.2 136.5L580.2 132.6" fill="#fff" stroke="#000" stroke-width="1.3" />
<ellipse cx="576.8" cy="132.6" rx="3.4" ry="1.9" fill="#fff" stroke="#000" stroke-width="1.3"/>
<ellipse cx="557" cy="168.8" rx="6.5" ry="3" fill="#fff" stroke="#000" stroke-width="1.9"/>
<ellipse cx="557" cy="166.2" rx="6.5" ry="3" fill="#fff" stroke="#000" stroke-width="1.9"/>
<ellipse cx="557" cy="163.6" rx="6.5" ry="3" fill="#fff" stroke="#000" stroke-width="1.9"/>
<path d="M563 162L576.3 169.2Q578.2 169.6 577.9 166.4" fill="none" stroke="#000" stroke-width="1.4" />
<path d="M562 170.6L567.7 172Q569 173 568.6 175.6" fill="none" stroke="#000" stroke-width="1.4" />
<ellipse cx="556.8" cy="183" rx="9.1" ry="4.7" fill="#fff" stroke="#000" stroke-width="1.2"/>
<ellipse cx="556.8" cy="181.8" rx="9.1" ry="4.7" fill="#fff" stroke="#000" stroke-width="1.5"/>
<ellipse cx="556.8" cy="181.6" rx="3.9" ry="1.9" fill="none" stroke="#000" stroke-width="1.3"/>
<path d="M547.2 197L547.2 201.8A9.1 4.5 0 0 0 565.4 201.8L565.4 197" fill="#fff" stroke="#000" stroke-width="1.4" />
<ellipse cx="556.3" cy="197" rx="9.1" ry="4.5" fill="#fff" stroke="#000" stroke-width="1.4"/>
<ellipse cx="556.3" cy="197" rx="6" ry="2.8" fill="none" stroke="#000" stroke-width="1.3"/>
<ellipse cx="556.3" cy="197.2" rx="4" ry="1.7" fill="none" stroke="#000" stroke-width="1.2"/>
<path d="M548.8 214.9L548.8 222.6A7.6 3.8 0 0 0 564 222.6L564 214.9" fill="#fff" stroke="#000" stroke-width="1.4" />
<ellipse cx="556.4" cy="214.9" rx="7.6" ry="3.8" fill="#fff" stroke="#000" stroke-width="1.4"/>
<ellipse cx="556.4" cy="214.9" rx="5" ry="2.4" fill="none" stroke="#000" stroke-width="1.2"/>
<path d="M553.5 213.6v2.8M555.4 213.2v3.4M557.3 213.2v3.4M559.2 213.6v2.8" fill="none" stroke="#000" stroke-width="1" />
<path d="M552.5 326L552.5 333.8A4.1 1.9 0 0 0 560.7 333.8L560.7 326" fill="#fff" stroke="#000" stroke-width="1.3" />
<path d="M549.2 314.5L549.2 324.5A7.4 2.6 0 0 0 564 324.5L564 314.5" fill="#fff" stroke="#000" stroke-width="1.4" />
<ellipse cx="556.6" cy="314.5" rx="7.4" ry="2.6" fill="#fff" stroke="#000" stroke-width="1.4"/>
<path d="M551 315v10.5M553.6 316v11M556.6 316.5v11M559.6 316v11M562.2 315v10.5" fill="none" stroke="#000" stroke-width="1.5" />
<path d="M552.5 279L552.5 313.5A4.1 1.8 0 0 0 560.7 313.5L560.7 279" fill="#fff" stroke="#000" stroke-width="1.3" />
<path d="M550.2 275.5L550.2 277.5A6.4 2.6 0 0 0 563 277.5L563 275.5" fill="#fff" stroke="#000" stroke-width="1.3" />
<ellipse cx="556.6" cy="275.5" rx="6.4" ry="2.6" fill="#fff" stroke="#000" stroke-width="1.3"/>
<path d="M550.2 271.5L550.2 274A6.4 2.6 0 0 0 563 274L563 271.5" fill="#fff" stroke="#000" stroke-width="1.3" />
<ellipse cx="556.6" cy="271.5" rx="6.4" ry="2.6" fill="#fff" stroke="#000" stroke-width="1.3"/>
<path d="M549.2 251.3L549.2 269.5A7.4 3 0 0 0 564 269.5L564 251.3" fill="#fff" stroke="#000" stroke-width="1.3" />
<ellipse cx="556.6" cy="251.3" rx="7.4" ry="3" fill="#fff" stroke="#000" stroke-width="1.3"/>
<path d="M551.6 246.5L551.6 250.5A5 2.2 0 0 0 561.6 250.5L561.6 246.5" fill="#fff" stroke="#000" stroke-width="1.3" />
<ellipse cx="556.6" cy="246.5" rx="5" ry="2.2" fill="#fff" stroke="#000" stroke-width="1.3"/>
<path d="M551.3 233L551.3 246A5.3 2.3 0 0 0 561.9 246L561.9 233" fill="#fff" stroke="#000" stroke-width="1.3" />
<ellipse cx="556.6" cy="233" rx="5.3" ry="2.3" fill="#fff" stroke="#000" stroke-width="1.3"/>
<path d="M552.4 236v9.5M553.8 236.4v9.8M555.2 236.6v10M556.6 236.7v10M558 236.6v10M559.4 236.4v9.8M560.8 236v9.5" fill="none" stroke="#000" stroke-width="1" />
<path d="M551.3 240.5Q556.6 243.5 561.9 240.5" fill="none" stroke="#000" stroke-width="1" />
<path d="M549.1 345.3L549.1 350.2A6.8 3.2 0 0 0 562.7 350.2L562.7 345.3" fill="#fff" stroke="#000" stroke-width="1.4" />
<ellipse cx="555.9" cy="345.3" rx="6.8" ry="3.2" fill="#fff" stroke="#000" stroke-width="1.4"/>
<ellipse cx="555.9" cy="345.3" rx="4.4" ry="2" fill="none" stroke="#000" stroke-width="1.2"/>
<path d="M553.6 344.3v2.2M555.2 344v2.8M556.8 344v2.8M558.4 344.3v2.2" fill="none" stroke="#000" stroke-width="1" />
<path d="M551.1 443.9 L521.7 426.9 L521.7 426.9 L519.1 425.7 L516.4 425 L513.4 424.7 L510.3 424.9 L507.1 425.6 L503.8 426.7 L500.4 428.2 L497 430.2 L493.6 432.5 L490.2 435.3 L487 438.4 L483.9 441.8 L481 445.4 L478.2 449.3 L475.7 453.4 L473.4 457.7 L471.4 462 L469.7 466.4 L468.3 470.8 L467.2 475.1 L466.5 479.4 L466.2 483.5 L466.2 487.4 L466.5 491.1 L467.2 494.6 L468.3 497.7 L469.7 500.5 L471.4 502.9 L473.4 504.9 L475.7 506.5 L505.1 523.5Z" fill="#fff" stroke="none" stroke-width="0" />
<path d="M478.4 501.8 L475.7 506.5 L473.2 504.8 L476.3 500.2 L474.4 498.3 L471.1 502.6 L469.4 499.9 L472.9 495.9 L471.6 493.2 L468 496.8 L467 493.4 L470.7 490.2 L470.2 486.8 L466.3 489.6 L466.1 485.5 L470 483.2 L470.2 479.4 L466.3 481.2 L467 476.7 L470.7 475.5 L471.6 471.4 L468 472 L469.4 467.3 L472.9 467.3 L474.4 463.1 L471.1 462.6 L473.2 458 L476.3 459 L478.4 455 L475.7 453.4 L478.4 449.1 L480.8 451.2 L483.4 447.5 L481.4 444.9 L484.6 441 L486.2 444.1 L489.2 441 L487.9 437.5 L491.4 434.3 L492.3 438.1 L495.5 435.7 L495 431.5 L498.7 429.1 L498.7 433.6 L501.9 432 L502.3 427.3 L505.9 425.9 L505 430.8 L508.1 430 L509.4 425 L512.8 424.7 L511.1 429.7 L513.9 429.9 L516 424.9 L518.9 425.6 L516.5 430.5 L518.9 431.6 L521.7 426.9" fill="none" stroke="#000" stroke-width="1.3" />
<path d="M478.4 501.8L507.9 518.8M475.7 506.5L505.1 523.5M473.2 504.8L502.7 521.8M476.3 500.2L505.7 517.2M474.4 498.3L503.9 515.3M471.1 502.6L500.6 519.6M469.4 499.9L498.8 516.9M472.9 495.9L502.3 512.9M471.6 493.2L501.1 510.2M468 496.8L497.4 513.8M467 493.4L496.4 510.4M470.7 490.2L500.2 507.2M470.2 486.8L499.6 503.8M466.3 489.6L495.8 506.6M466.1 485.5L495.6 502.5M470 483.2L499.5 500.2M470.2 479.4L499.7 496.4M466.3 481.2L495.8 498.2M467 476.7L496.4 493.7M470.7 475.5L500.2 492.5M471.6 471.4L501.1 488.4M468 472L497.4 489M469.4 467.3L498.8 484.3M472.9 467.3L502.3 484.3M474.4 463.1L503.9 480.1M471.1 462.6L500.6 479.6M473.2 458L502.7 475M476.3 459L505.7 476M478.4 455L507.9 472M475.7 453.4L505.1 470.4M478.4 449.1L507.8 466.1M480.8 451.2L510.3 468.2M483.4 447.5L512.9 464.5M481.4 444.9L510.8 461.9M484.6 441L514 458M486.2 444.1L515.7 461.1M489.2 441L518.7 458M487.9 437.5L517.4 454.5M491.4 434.3L520.9 451.3M492.3 438.1L521.7 455.1M495.5 435.7L524.9 452.7M495 431.5L524.5 448.5M498.7 429.1L528.1 446.1M498.7 433.6L528.1 450.6M501.9 432L531.3 449M502.3 427.3L531.8 444.3M505.9 425.9L535.3 442.9M505 430.8L534.5 447.8M508.1 430L537.6 447M509.4 425L538.8 442M512.8 424.7L542.2 441.7M511.1 429.7L540.5 446.7M513.9 429.9L543.3 446.9M516 424.9L545.4 441.9M518.9 425.6L548.4 442.6M516.5 430.5L546 447.5M518.9 431.6L548.4 448.6M521.7 426.9L551.1 443.9" fill="none" stroke="#000" stroke-width="1" />
<path d="M557.2 428.9A62 35.8 -60 1 0 495.2 536.3A62 35.8 -60 1 0 557.2 428.9Z" fill="#fff" stroke="#000" stroke-width="1.3" />
<path d="M559.1 430A62 35.8 -60 1 0 497.1 537.4A62 35.8 -60 1 0 559.1 430Z" fill="#fff" stroke="#000" stroke-width="1.3" />
<path d="M551.1 443.9A46 26.5 -60 1 0 505.1 523.5A46 26.5 -60 1 0 551.1 443.9Z" fill="none" stroke="#000" stroke-width="1.3" />
<path d="M548.1 449.1A40 23.1 -60 1 0 508.1 518.3A40 23.1 -60 1 0 548.1 449.1Z" fill="none" stroke="#000" stroke-width="1.3" />
<path d="M524.1 503.4 L522 503.7 L520.1 503.7 L518.3 503.3 L516.7 502.5 L515.4 501.4 L514.2 499.9 L513.4 498 L512.8 495.9 L512.6 493.6 L512.6 491.1 L512.9 488.4 L513.6 485.7 L514.5 482.9 L515.7 480.1 L517.1 477.4 L518.7 474.8 L520.6 472.3 L522.5 470.2 L524.6 468.2 L526.7 466.6 L528.9 465.3 L531.1 464.4 L533.2 463.8 L535.2 463.6 L537 463.8 L538.7 464.4 L540.2 465.4 L541.4 466.7 L542.4 468.4 L543.1 470.4" fill="none" stroke="#000" stroke-width="1.3" />
<path d="M541.4 466A22 12.7 -60 1 0 519.4 504.1A22 12.7 -60 1 0 541.4 466Z" fill="#fff" stroke="#000" stroke-width="1.3" />
<path d="M530.3 456.6A4.2 2.4 -60 1 0 526.1 463.8A4.2 2.4 -60 1 0 530.3 456.6Z" fill="#fff" stroke="#000" stroke-width="1.3" />
<path d="M524.3 462.5 L524.1 462 L524 461.5 L524 460.9 L524.1 460.3 L524.3 459.6 L524.6 458.9 L524.9 458.3 L525.3 457.7 L525.7 457.1 L526.2 456.6 L526.7 456.2 L527.2 455.9 L527.8 455.7 L528.2 455.7" fill="none" stroke="#000" stroke-width="1" />
<path d="M550.6 458.5A4.2 2.4 -60 1 0 546.4 465.7A4.2 2.4 -60 1 0 550.6 458.5Z" fill="#fff" stroke="#000" stroke-width="1.3" />
<path d="M544.6 464.4 L544.4 463.9 L544.3 463.4 L544.3 462.8 L544.4 462.2 L544.6 461.5 L544.9 460.8 L545.2 460.2 L545.6 459.6 L546 459 L546.5 458.5 L547 458.1 L547.5 457.8 L548.1 457.6 L548.5 457.6" fill="none" stroke="#000" stroke-width="1" />
<path d="M510.3 482.1A4.2 2.4 -60 1 0 506.1 489.3A4.2 2.4 -60 1 0 510.3 482.1Z" fill="#fff" stroke="#000" stroke-width="1.3" />
<path d="M504.3 488 L504.1 487.5 L504 487 L504 486.4 L504.1 485.8 L504.3 485.1 L504.6 484.4 L504.9 483.8 L505.3 483.2 L505.7 482.6 L506.2 482.1 L506.7 481.7 L507.2 481.4 L507.8 481.2 L508.2 481.2" fill="none" stroke="#000" stroke-width="1" />
<path d="M546.7 493.9A4.2 2.4 -60 1 0 542.5 501.1A4.2 2.4 -60 1 0 546.7 493.9Z" fill="#fff" stroke="#000" stroke-width="1.3" />
<path d="M540.7 499.8 L540.5 499.3 L540.4 498.8 L540.4 498.2 L540.5 497.6 L540.7 496.9 L541 496.2 L541.3 495.6 L541.7 495 L542.1 494.4 L542.6 493.9 L543.1 493.5 L543.6 493.2 L544.2 493 L544.6 493" fill="none" stroke="#000" stroke-width="1" />
<path d="M518.7 509.1A4.2 2.4 -60 1 0 514.5 516.3A4.2 2.4 -60 1 0 518.7 509.1Z" fill="#fff" stroke="#000" stroke-width="1.3" />
<path d="M512.7 515 L512.5 514.5 L512.4 514 L512.4 513.4 L512.5 512.8 L512.7 512.1 L513 511.4 L513.3 510.8 L513.7 510.2 L514.1 509.6 L514.6 509.1 L515.1 508.7 L515.6 508.4 L516.2 508.2 L516.6 508.2" fill="none" stroke="#000" stroke-width="1" />
<path d="M537.9 472.1 L538.1 475.5 L540.7 476 L539.3 479.9 L540.7 482.3 L538.1 485.7 L537.9 489.4 L534.9 491.3 L533.2 495.3 L530.4 495.3 L527.7 498.5 L526 496.4 L522.9 498 L522.8 494.6 L520.2 494.1 L521.6 490.2 L520.2 487.8 L522.8 484.4 L522.9 480.7 L526 478.8 L527.7 474.8 L530.4 474.8 L533.2 471.6 L534.9 473.7Z" fill="#fff" stroke="#000" stroke-width="1.3" />
<path d="M533 476.7 L534.2 474.5 L535.4 475.7 L533.9 477.6 L534.5 478.9 L536.2 477.4 L536.5 479.6 L534.7 480.6 L534.5 482.5 L536.2 482 L535.4 484.6 L533.9 484.5 L533 486.5 L534.2 487.2 L532.6 489.6 L531.7 488.3 L530.3 489.9 L530.7 491.6 L528.7 493 L528.7 491 L527.1 491.7 L526.7 493.9 L524.8 494.1 L525.7 491.8 L524.5 491.4 L523.2 493.6 L522 492.4 L523.5 490.5 L522.9 489.2 L521.2 490.7 L520.9 488.5 L522.7 487.5 L522.9 485.6 L521.2 486.1 L522 483.5 L523.5 483.6 L524.5 481.6 L523.2 480.9 L524.8 478.5 L525.7 479.8 L527.2 478.2 L526.7 476.5 L528.7 475.1 L528.7 477.1 L530.3 476.4 L530.7 474.2 L532.6 474 L531.7 476.3 L533 476.7 L534.2 474.5Z" fill="none" stroke="#000" stroke-width="1" />
<path d="M523.2 493.6L526.2 495.3M522 492.4L525 494.2M521.2 490.7L524.2 492.5M520.9 488.5L524 490.3M521.2 486.1L524.2 487.8M522 483.5L525 485.2M523.2 480.9L526.2 482.6M524.8 478.5L527.9 480.3M526.7 476.5L529.7 478.3M528.7 475.1L531.7 476.8M530.7 474.2L533.8 476M532.6 474L535.6 475.8" fill="none" stroke="#000" stroke-width="1.2" />
<path d="M455.5 429.5 L455.6 425.4 L460.2 423.7 L459 428.2Z" fill="#fff" stroke="#000" stroke-width="1.3" />
<path d="M455.6 425.4L459.1 427.4" stroke="#000" stroke-width="1.3" fill="none" />
<path d="M460.2 423.7L463.6 425.7" stroke="#000" stroke-width="1.3" fill="none" />
<path d="M459 431.5 L459.1 427.4 L463.6 425.7 L462.5 430.2Z" fill="#fff" stroke="#000" stroke-width="1.3" />
<path d="M469.3 433.7 L471.9 431 L472.9 437.1 L470.1 438.6Z" fill="#fff" stroke="#000" stroke-width="1.3" />
<path d="M471.9 431L474.5 432.5" stroke="#000" stroke-width="1.3" fill="none" />
<path d="M472.9 437.1L475.5 438.6" stroke="#000" stroke-width="1.3" fill="none" />
<path d="M471.9 435.2 L474.5 432.5 L475.5 438.6 L472.7 440.1Z" fill="#fff" stroke="#000" stroke-width="1.3" />
<path d="M445.3 455.2 L441.9 460 L439 452.4 L443.2 449.6Z" fill="#fff" stroke="#000" stroke-width="1.3" />
<path d="M441.9 460L446.2 462.5" stroke="#000" stroke-width="1.3" fill="none" />
<path d="M439 452.4L443.3 454.9" stroke="#000" stroke-width="1.3" fill="none" />
<path d="M449.6 457.7 L446.2 462.5 L443.3 454.9 L447.5 452.1Z" fill="#fff" stroke="#000" stroke-width="1.3" />
<path d="M459.6 457.3 L459.8 461.2 L455.2 463.4 L456.1 459Z" fill="#fff" stroke="#000" stroke-width="1.3" />
<path d="M459.8 461.2L462.4 462.7" stroke="#000" stroke-width="1.3" fill="none" />
<path d="M455.2 463.4L457.8 464.9" stroke="#000" stroke-width="1.3" fill="none" />
<path d="M462.2 458.8 L462.4 462.7 L457.8 464.9 L458.7 460.5Z" fill="#fff" stroke="#000" stroke-width="1.3" />
<path d="M466.3 428.8A17.5 10.1 -60 1 0 448.8 459.1A17.5 10.1 -60 1 0 466.3 428.8Z" fill="#fff" stroke="#000" stroke-width="1.3" />
<path d="M467.6 429.5A17.5 10.1 -60 1 0 450.1 459.9A17.5 10.1 -60 1 0 467.6 429.5Z" fill="#fff" stroke="#000" stroke-width="1.3" />
<path d="M463.8 436A10 5.8 -60 1 0 453.8 453.4A10 5.8 -60 1 0 463.8 436Z" fill="none" stroke="#000" stroke-width="1.3" />
<path d="M451.1 451.1 L450.7 450 L450.5 448.7 L450.5 447.3 L450.7 445.8 L451.1 444.2 L451.7 442.6 L452.5 441.1 L453.4 439.6 L454.5 438.3 L455.7 437.1 L456.9 436.2 L458.1 435.5 L459.3 435 L460.5 434.8" fill="none" stroke="#000" stroke-width="1" />
<path d="M179.8 590.2 L201.5 602.7 L194.7 602 L173.1 589.5M181.6 588 L201.1 599.3M173.1 589.5 L170.8 588.9 L174.6 591.5 L173.3 590.6 L170 588.4 L163.9 584.9 L161.5 582.6M161.5 582.6 L183.2 595.1 L179.3 589.5 L157.7 577M164.1 580.7 L183.6 592M157.7 577 L156.6 574.6 L163 573.7 L162.9 571.5 L160.1 568.7 L154 565.2 L153.5 560.9M153.5 560.9 L175.2 573.4 L175.3 564.4 L153.6 551.9M156.5 560 L176 571.3M153.6 551.9 L154 548.4 L163.5 545.5 L164.7 542.6 L162.5 539.6 L156.5 536.1 L158 530.9M158 530.9 L179.7 543.4 L183.6 533.4 L162 520.9M160.8 531.4 L180.3 542.6M162 520.9 L163.7 517.2 L176.1 514.4 L178.3 511.7 L176.7 508.8 L170.6 505.3 L173.8 500.7M173.8 500.7 L195.4 513.2 L202.2 504.8 L180.6 492.3M175.8 502.5 L195.3 513.8M180.6 492.3 L183.2 489.5 L197.3 488.8 L200.1 487.1 L198.7 484.6 L192.6 481.1 L196.6 478.3M196.6 478.3 L218.2 490.8 L226 486.4 L204.4 473.9M197.6 481.1 L217.1 492.4M204.4 473.9 L207.2 472.6 L221.4 475.5 L224.2 475.2 L222.7 473.6 L216.6 470.1 L220.3 469.8M220.3 469.8 L242 482.3 L248.7 483 L227 470.5M220.3 473 L239.7 484.2M227 470.5 L229.3 471.1 L242 478 L244.1 479.4 L242.3 478.6 L236.2 475.1 L238.6 477.4M238.6 477.4 L260.3 489.9 L264.1 495.5 L242.5 483M237.7 480.3 L257.2 491.5M242.5 483 L243.6 485.4 L253.6 495.8 L254.6 498.5 L252.2 498.3 L246.1 494.8 L246.6 499.1" fill="none" stroke="#000" stroke-width="1.3" />
<path d="M266.2 487.4A70 40.4 -60 1 0 196.2 608.6A70 40.4 -60 1 0 266.2 487.4Z" fill="#fff" stroke="#000" stroke-width="1.3" />
<path d="M278.8 491.7 L267.5 485.2 L267.5 485.2 L263.5 483.4 L259.2 482.2 L254.5 481.8 L249.6 482.1 L244.5 483.2 L239.3 484.9 L233.9 487.3 L228.6 490.4 L223.2 494.2 L218 498.5 L212.9 503.4 L208 508.7 L203.3 514.5 L199 520.6 L195 527.1 L191.4 533.8 L188.3 540.6 L185.6 547.5 L183.4 554.4 L181.7 561.3 L180.6 568 L180.1 574.5 L180.1 580.7 L180.6 586.5 L181.7 591.9 L183.4 596.9 L185.6 601.3 L188.3 605.1 L191.4 608.3 L195 610.8 L206.2 617.3Z" fill="#fff" stroke="none" stroke-width="0" />
<path d="M202.8 611.2 L199.4 610.2 L196.2 608.6 L193.3 606.6 L190.7 604.2 L188.4 601.3 L186.4 598.1 L184.7 594.4 L183.4 590.4 L182.5 586.1 L181.9 581.5 L181.8 576.6 L181.9 571.5 L182.5 566.2 L183.4 560.8 L184.7 555.3 L186.4 549.8 L188.4 544.2 L190.7 538.6 L193.3 533.2 L196.3 527.8 L199.4 522.6 L202.9 517.6 L206.5 512.8 L210.3 508.3 L214.3 504.1 L218.4 500.2 L222.7 496.7 L226.9 493.6 L231.3 490.9 L235.6 488.6 L239.8 486.8 L244.1 485.4 L248.2 484.5 L252.2 484.1 L256 484.2 L259.6 484.8 L263.1 485.8 L266.2 487.4 L269.2 489.4 L271.8 491.8" fill="none" stroke="#000" stroke-width="1.3" />
<path d="M214.8 608.4 L200.9 609.6 L197.8 607.4 L212.1 606.5ZM211.8 608.3 L200.9 609M210.3 604.8 L195.7 605.5 L193.2 602.5 L208.1 602.1ZM207.3 604.4 L196 604.6M206.7 599.9 L191.6 599.9 L189.8 596.1 L205.1 596.5ZM203.8 599.1 L192.1 598.8M204.1 593.8 L188.7 593 L187.6 588.5 L203.1 589.7ZM201.4 592.6 L189.5 591.7M202.7 586.6 L187.1 584.9 L186.7 579.8 L202.3 582.1ZM200.2 585.1 L188.1 583.4M202.4 578.6 L186.8 575.9 L187.2 570.3 L202.7 573.7ZM200.1 576.7 L188.1 574.3M203.2 570 L187.8 566.2 L188.9 560.3 L204.3 564.9ZM201.2 567.8 L189.3 564.5M205.3 561.1 L190 556 L191.9 550 L206.9 555.8ZM203.5 558.6 L191.8 554.4M208.4 551.9 L193.5 545.7 L196.1 539.7 L210.6 546.7ZM206.9 549.2 L195.6 544.1M212.5 542.9 L198.2 535.5 L201.4 529.7 L215.3 537.9ZM211.3 540 L200.4 534.1M217.5 534.3 L203.9 525.7 L207.5 520.3 L220.7 529.5ZM216.6 531.3 L206.2 524.5M223.2 526.2 L210.4 516.5 L214.5 511.6 L226.8 521.9ZM222.6 523.2 L212.8 515.6M229.6 519 L217.6 508.3 L222 504.1 L233.5 515.2ZM229.2 515.9 L220 507.6M236.3 512.7 L225.2 501.3 L229.8 497.8 L240.4 509.6ZM236.2 509.8 L227.7 500.9M243.3 507.7 L233.2 495.5 L237.8 492.9 L247.4 505.3ZM243.5 504.8 L235.6 495.5M250.4 503.9 L241.1 491.3 L245.7 489.6 L254.4 502.4ZM250.7 501.3 L243.5 491.6M257.3 501.6 L249 488.7 L253.3 487.9 L261.2 500.9ZM257.7 499.2 L251.3 489.3M263.9 500.8 L256.4 487.7 L260.5 488 L267.5 501ZM264.4 498.7 L258.5 488.7M270 501.4 L263.3 488.5 L266.9 489.7 L273.2 502.5ZM270.4 499.7 L265.2 489.8" fill="none" stroke="#000" stroke-width="1.4" />
<path d="M287 541.5 L286.1 545 L288.1 546.1 L287.9 546.8 L285.2 548.5 L284 552 L285.7 553.5 L285.5 554.2 L282.8 555.6 L281.4 559.1 L282.8 560.9 L282.5 561.7 L279.8 562.7 L278.2 566.1 L279.4 568.3 L279 569 L276.4 569.6 L274.5 573 L275.4 575.4 L275 576.1 L272.5 576.3 L270.4 579.6 L271.1 582.3 L270.6 582.9 L268.2 582.8 L266 585.8 L266.3 588.8 L265.8 589.4 L263.6 588.8 L261.1 591.7 L261.2 594.8 L260.7 595.4 L258.6 594.4 L256.1 597.1 L255.8 600.3 L255.3 600.8 L253.4 599.5 L250.8 601.9 L250.2 605.3 L249.7 605.7 L248.1 604 L245.4 606.1 L244.5 609.5 L243.9 609.9 L242.6 607.9 L239.9 609.6 L238.7 613.1 L238.2 613.4 L237.1 611.1 L234.4 612.4 L233 615.9 L232.4 616.1 L231.7 613.5 L229 614.5 L227.3 617.9 L226.8 618 L226.3 615.2 L223.7 615.7 L221.8 619.1 L221.3 619.2 L221.1 616.1 L218.6 616.3 L216.5 619.5 L216 619.4 L216.2 616.2 L213.8 616 L211.5 619 L211.1 618.9 L211.5 615.5 L209.3 614.9 L206.9 617.7 L206.5 617.5 L207.2 614 L205.3 613 L202.7 615.6 L202.3 615.3 L203.4 611.8 L201.6 610.4 L198.9 612.6 L198.6 612.3 L199.9 608.8 L198.4 607.1 L195.7 609 L195.4 608.6" fill="none" stroke="#000" stroke-width="1" />
<path d="M270.9 488.5 L271.3 488.6 L270.9 492 L273.1 492.6 L275.5 489.8 L275.9 490 L275.2 493.5 L277.1 494.5 L279.7 491.9 L280.1 492.2 L279 495.7 L280.8 497.1 L283.5 494.9 L283.8 495.2 L282.5 498.7 L284 500.4 L286.7 498.5 L287 498.9 L285.4 502.4 L286.6 504.5 L289.4 502.9 L289.6 503.3 L287.8 506.7 L288.7 509.1 L291.5 507.9 L291.6 508.4 L289.6 511.6 L290.3 514.3 L292.9 513.5 L293 514 L290.8 517.1 L291.2 520 L293.8 519.6 L293.8 520.2 L291.4 523.1 L291.5 526.2 L293.9 526.1 L293.9 526.8 L291.4 529.4 L291.2 532.7 L293.5 533 L293.4 533.7 L290.8 536.1 L290.3 539.5 L292.4 540.2 L292.3 540.9 L289.6 543 L288.7 546.5 L290.7 547.6 L290.5 548.3 L287.8 550 L286.6 553.5 L288.3 555 L288.1 555.7 L285.4 557.1 L284 560.6 L285.4 562.4 L285.1 563.2 L282.4 564.2 L280.8 567.6 L282 569.8 L281.6 570.5 L279 571.1 L277.1 574.5 L278 576.9 L277.6 577.6 L275.1 577.8 L273 581.1 L273.7 583.8 L273.2 584.4 L270.8 584.3 L268.6 587.3 L268.9 590.3 L268.4 590.9 L266.2 590.3 L263.7 593.2 L263.8 596.3 L263.3 596.9 L261.2 595.9 L258.7 598.6 L258.4 601.8 L257.8 602.3 L256 601 L253.4 603.4 L252.8 606.8 L252.3 607.2 L250.7 605.5 L248 607.6 L247.1 611 L246.5 611.4 L245.2 609.4 L242.5 611.1 L241.3 614.6 L240.8 614.9 L239.7 612.6 L237 613.9 L235.6 617.4 L235 617.6 L234.3 615 L231.6 616 L229.9 619.4 L229.4 619.5 L228.9 616.7 L226.3 617.2 L224.4 620.6 L223.9 620.7 L223.7 617.6 L221.2 617.8 L219.1 621 L218.6 620.9 L218.8 617.7 L216.4 617.5 L214.1 620.5 L213.7 620.4 L214.1 617 L211.9 616.4 L209.5 619.2 L209.1 619 L209.8 615.5 L207.8 614.5 L205.3 617.1 L204.9 616.8 L206 613.3 L204.2 611.9 L201.5 614.1 L201.2 613.8 L202.5 610.3 L201 608.6 L198.3 610.5 L198 610.1" fill="#fff" stroke="#000" stroke-width="1" />
<path d="M267.5 492.2 L270.3 492.6 L273 493.4 L275.5 494.5 L277.9 495.9 L280.1 497.6 L282.2 499.5 L284 501.7 L285.7 504.2 L287.1 506.9 L288.3 509.8 L289.3 513 L290 516.4 L290.6 519.9 L290.9 523.6 L290.9 527.5 L290.7 531.5 L290.3 535.6 L289.7 539.8 L288.8 544.1 L287.7 548.4 L286.4 552.8 L284.8 557.1 L283.1 561.5 L281.2 565.8 L279 570.1 L276.7 574.3 L274.3 578.4 L271.6 582.3 L268.9 586.2 L266 589.8 L263 593.4 L259.8 596.7 L256.6 599.8 L253.4 602.7 L250.1 605.4 L246.7 607.8 L243.3 609.9 L240 611.8 L236.6 613.4 L233.2 614.7 L230 615.8 L226.7 616.5 L223.6 616.9 L220.5 617 L217.5 616.8 L214.7 616.4 L212 615.6 L209.5 614.5 L207.1 613.1 L204.9 611.4 L202.8 609.5 L201 607.3 L199.3 604.8" fill="none" stroke="#000" stroke-width="1" />
<path d="M275.3 503.6A60.5 34.9 -60 1 0 214.8 608.4A60.5 34.9 -60 1 0 275.3 503.6Z" fill="#fff" stroke="#000" stroke-width="1.3" />
<path d="M266.4 494.9 L269.1 495.4 L271.6 496.1 L274.1 497.2 L276.4 498.5 L278.5 500.1 L280.4 501.9 L282.2 504 L283.8 506.4 L285.1 509 L286.3 511.8 L287.2 514.8 L288 518 L288.5 521.4 L288.7 525 L288.8 528.7 L288.6 532.5 L288.2 536.4 L287.6 540.5 L286.8 544.6 L285.7 548.7 L284.5 552.9 L283 557 L281.3 561.2 L279.5 565.3 L277.4 569.4 L275.2 573.4 L272.9 577.3 L270.4 581.1 L267.7 584.8 L264.9 588.3 L262.1 591.7 L259.1 594.8 L256 597.8 L252.9 600.6 L249.7 603.1 L246.5 605.4 L243.3 607.5 L240.1 609.3 L236.8 610.8 L233.7 612.1 L230.5 613.1 L227.4 613.8 L224.4 614.2 L221.5 614.3 L218.6 614.1 L215.9 613.6 L213.4 612.9 L210.9 611.8 L208.6 610.5 L206.5 608.9 L204.6 607.1 L202.8 605 L201.2 602.6" fill="none" stroke="#000" stroke-width="1" />
<path d="M272.5 506A56 32.3 -60 1 0 216.5 603A56 32.3 -60 1 0 272.5 506Z" fill="none" stroke="#000" stroke-width="1.3" />
<path d="M246.2 518.7 L259.1 502.7 L264.8 510.7 L251.9 526.7Z" fill="#fff" stroke="#000" stroke-width="1.1" />
<path d="M247.3 517.3 L248.9 517.8 L250.4 518.6 L251.5 519.7 L252.3 521.3 L252.7 523.2 L253 525.4M249.5 514.7 L251.1 515.2 L252.5 515.9 L253.6 517 L254.4 518.6 L254.8 520.5 L255.1 522.7M251.6 512 L253.2 512.5 L254.7 513.2 L255.8 514.4 L256.5 515.9 L257 517.9 L257.3 520.1M253.7 509.3 L255.4 509.8 L256.8 510.6 L257.9 511.7 L258.7 513.3 L259.1 515.2 L259.4 517.4M255.9 506.7 L257.5 507.2 L258.9 507.9 L260.1 509 L260.8 510.6 L261.3 512.5 L261.5 514.7M258 504 L259.6 504.5 L261.1 505.2 L262.2 506.4 L263 507.9 L263.4 509.9 L263.7 512.1" fill="none" stroke="#000" stroke-width="1.3" />
<path d="M224.3 542.2 L225.6 524.4 L236.9 519 L235.6 536.8Z" fill="#fff" stroke="#000" stroke-width="1.1" />
<path d="M224.4 540.7 L226.4 538.9 L228.3 537.3 L230.2 536.2 L232.1 535.5 L233.9 535.3 L235.7 535.3M224.6 537.7 L226.6 535.9 L228.5 534.3 L230.4 533.2 L232.3 532.5 L234.1 532.3 L235.9 532.4M224.9 534.8 L226.8 532.9 L228.7 531.4 L230.6 530.2 L232.5 529.6 L234.3 529.4 L236.1 529.4M225.1 531.8 L227 530 L228.9 528.4 L230.8 527.2 L232.7 526.6 L234.5 526.4 L236.3 526.4M225.3 528.8 L227.2 527 L229.2 525.4 L231.1 524.3 L232.9 523.6 L234.7 523.4 L236.6 523.5M225.5 525.9 L227.5 524 L229.4 522.5 L231.3 521.3 L233.1 520.7 L235 520.4 L236.8 520.5" fill="none" stroke="#000" stroke-width="1.3" />
<path d="M216.6 580.4 L202.3 584.3 L205.2 570 L219.5 566.1Z" fill="#fff" stroke="#000" stroke-width="1.1" />
<path d="M215.4 580.8 L215.1 578.6 L215.1 576.3 L215.4 574 L216.1 571.6 L217.1 569 L218.3 566.4M213 581.4 L212.8 579.2 L212.7 577 L213 574.6 L213.7 572.2 L214.7 569.7 L215.9 567.1M210.6 582 L210.4 579.9 L210.3 577.6 L210.6 575.3 L211.3 572.8 L212.3 570.3 L213.6 567.7M208.2 582.7 L208 580.5 L207.9 578.3 L208.2 575.9 L208.9 573.5 L209.9 571 L211.2 568.4M205.9 583.3 L205.6 581.1 L205.5 578.9 L205.8 576.6 L206.5 574.1 L207.5 571.6 L208.8 569M203.5 584 L203.2 581.8 L203.1 579.5 L203.4 577.2 L204.1 574.8 L205.2 572.2 L206.4 569.6" fill="none" stroke="#000" stroke-width="1.3" />
<path d="M230.6 590.3 L217.2 605.3 L212.4 596.3 L225.8 581.3Z" fill="#fff" stroke="#000" stroke-width="1.1" />
<path d="M229.5 591.6 L228 590.9 L226.7 589.9 L225.7 588.6 L225.1 586.9 L224.8 584.8 L224.7 582.5M227.3 594.1 L225.8 593.4 L224.4 592.4 L223.5 591.1 L222.8 589.4 L222.6 587.3 L222.5 585M225 596.6 L223.5 595.9 L222.2 594.9 L221.2 593.6 L220.6 591.9 L220.3 589.8 L220.2 587.5M222.8 599.1 L221.3 598.4 L220 597.4 L219 596.1 L218.4 594.4 L218.1 592.3 L218 590M220.5 601.6 L219 600.9 L217.7 599.9 L216.7 598.6 L216.1 596.9 L215.8 594.8 L215.7 592.5M218.3 604.1 L216.8 603.4 L215.5 602.4 L214.5 601.1 L213.9 599.4 L213.6 597.3 L213.5 595" fill="none" stroke="#000" stroke-width="1.3" />
<path d="M217.3 547.2A5.2 3 -60 1 0 212.1 556.2A5.2 3 -60 1 0 217.3 547.2Z" fill="#fff" stroke="#000" stroke-width="1.3" />
<path d="M210.1 554.7 L209.9 554.1 L209.7 553.4 L209.7 552.7 L209.9 551.9 L210.1 551.1 L210.4 550.3 L210.8 549.4 L211.3 548.7 L211.8 548 L212.5 547.4 L213.1 546.9 L213.7 546.5 L214.4 546.3 L215 546.2" fill="none" stroke="#000" stroke-width="1" />
<path d="M273.6 517.6A4.5 2.6 -60 1 0 269.1 525.4A4.5 2.6 -60 1 0 273.6 517.6Z" fill="#fff" stroke="#000" stroke-width="1.3" />
<path d="M267.2 524 L267 523.5 L266.9 522.9 L266.9 522.3 L267 521.6 L267.2 520.9 L267.5 520.1 L267.9 519.5 L268.3 518.8 L268.8 518.2 L269.3 517.7 L269.8 517.3 L270.4 516.9 L270.9 516.7 L271.4 516.6" fill="none" stroke="#000" stroke-width="1" />
<path d="M264.9 525.9 L267 523.2 L267.7 523.7 L266.3 526.8 L267.5 527.8 L269.7 525.5 L270.3 526.2 L268.6 529.1 L269.6 530.5 L271.9 528.5 L272.3 529.4 L270.4 532.1 L271.1 533.9 L273.5 532.3 L273.7 533.2 L271.6 535.7 L272 537.7 L274.4 536.6 L274.5 537.7 L272.2 539.9 L272.3 542.1 L274.6 541.4 L274.6 542.6 L272.2 544.4 L272 546.8 L274.2 546.6 L274 547.9 L271.6 549.3 L271.1 551.8 L273.1 552.1 L272.8 553.3 L270.4 554.3 L269.6 556.8 L271.4 557.6 L270.9 558.9 L268.6 559.4 L267.5 561.9 L269 563.1 L268.4 564.4 L266.3 564.4 L264.9 566.8 L266.2 568.5 L265.4 569.7 L263.5 569.2 L261.9 571.5 L262.8 573.6 L262 574.7 L260.3 573.7 L258.6 575.8 L259.1 578.2 L258.2 579.2 L256.8 577.8 L254.9 579.7 L255.1 582.3 L254.2 583.2 L253.1 581.4 L251.1 583 L250.9 585.8 L249.9 586.5 L249.2 584.4 L247.2 585.6 L246.6 588.6 L245.6 589.1 L245.2 586.6 L243.3 587.5 L242.3 590.6 L241.3 590.9 L241.3 588.2 L239.4 588.6 L238.2 591.7 L237.2 591.9 L237.6 588.9 L235.8 589 L234.2 592 L233.4 591.9 L234.1 588.9 L232.4 588.6 L230.6 591.4 L229.8 591.1 L230.9 588.1 L229.4 587.3 L227.4 590 L226.7 589.5 L228.1 586.4 L226.9 585.4 L224.7 587.7 L224.1 587 L225.8 584.1 L224.8 582.7 L222.5 584.7 L222.1 583.8 L224 581.1 L223.3 579.3 L220.9 580.9 L220.7 580 L222.8 577.5 L222.4 575.5 L220 576.6 L219.9 575.5 L222.2 573.3 L222.1 571.1 L219.8 571.8 L219.8 570.6 L222.2 568.8 L222.4 566.4 L220.2 566.6 L220.4 565.3 L222.8 563.9 L223.3 561.4 L221.3 561.1 L221.6 559.9 L224 558.9 L224.8 556.4 L223 555.6 L223.5 554.3 L225.8 553.8 L226.9 551.3 L225.4 550.1 L226 548.8 L228.1 548.8 L229.5 546.4 L228.2 544.7 L229 543.5 L230.9 544 L232.5 541.7 L231.6 539.6 L232.4 538.5 L234.1 539.5 L235.8 537.4 L235.3 535 L236.2 534 L237.6 535.4 L239.5 533.5 L239.3 530.9 L240.2 530 L241.3 531.8 L243.3 530.2 L243.5 527.4 L244.5 526.7 L245.2 528.8 L247.2 527.6 L247.8 524.6 L248.8 524.1 L249.2 526.6 L251.1 525.7 L252.1 522.6 L253.1 522.3 L253.1 525 L255 524.6 L256.2 521.5 L257.2 521.3 L256.8 524.3 L258.6 524.2 L260.2 521.2 L261 521.3 L260.3 524.3 L262 524.6 L263.8 521.8 L264.6 522.1 L263.5 525.1 L264.9 525.9Z" fill="#fff" stroke="#000" stroke-width="1.1" />
<path d="M263.7 528A33 19 -60 1 0 230.7 585.2A33 19 -60 1 0 263.7 528Z" fill="none" stroke="#000" stroke-width="1" />
<path d="M263.8 534.2A27.5 15.9 -60 1 0 236.2 581.8A27.5 15.9 -60 1 0 263.8 534.2Z" fill="none" stroke="#000" stroke-width="1.3" />
<path d="M262.5 536.3A25 14.4 -60 1 0 237.5 579.7A25 14.4 -60 1 0 262.5 536.3Z" fill="none" stroke="#000" stroke-width="1" />
<path d="M260.8 539.4A21.5 12.4 -60 1 0 239.2 576.6A21.5 12.4 -60 1 0 260.8 539.4Z" fill="none" stroke="#000" stroke-width="1.3" />
<path d="M270 549.1 L260.5 543.6 L260.5 543.6 L259 543.1 L257.3 542.9 L255.4 543.2 L253.5 543.9 L251.5 545.1 L249.5 546.6 L247.7 548.4 L246 550.5 L244.5 552.9 L243.2 555.4 L242.2 557.9 L241.5 560.4 L241.2 562.9 L241.2 565.1 L241.5 567.2 L242.2 568.9 L243.2 570.3 L244.5 571.4 L254 576.9Z" fill="#fff" stroke="none" stroke-width="0" />
<path d="M246 568.8 L244.5 571.4 L243.2 570.3 L244.9 567.9 L244.1 566.8 L242.2 568.9 L241.5 567.2 L243.6 565.4 L243.3 563.7 L241.2 565.1 L241.2 562.9 L243.3 561.9 L243.6 559.9 L241.5 560.4 L242.2 557.9 L244.1 557.8 L244.9 555.8 L243.2 555.4 L244.5 552.9 L246 553.7 L247.2 551.9 L246 550.5 L247.7 548.4 L248.6 550.1 L250.1 548.6 L249.5 546.6 L251.5 545.1 L251.7 547.4 L253.3 546.5 L253.5 543.9 L255.4 543.2 L254.9 545.9 L256.4 545.6 L257.3 542.9 L259 543.1 L257.7 545.8 L259 546.2 L260.5 543.6" fill="none" stroke="#000" stroke-width="1.1" />
<path d="M246 568.8L255.5 574.3M244.5 571.4L254 576.9M243.2 570.3L252.7 575.8M244.9 567.9L254.5 573.4M244.1 566.8L253.7 572.3M242.2 568.9L251.7 574.4M241.5 567.2L251.1 572.7M243.6 565.4L253.1 570.9M243.3 563.7L252.8 569.2M241.2 565.1L250.7 570.6M241.2 562.9L250.7 568.4M243.3 561.9L252.8 567.4M243.6 559.9L253.1 565.4M241.5 560.4L251.1 565.9M242.2 557.9L251.8 563.4M244.1 557.8L253.7 563.3M244.9 555.8L254.5 561.3M243.2 555.4L252.7 560.9M244.5 552.9L254 558.4M246 553.7L255.5 559.2M247.2 551.9L256.7 557.4M246 550.5L255.5 556M247.7 548.4L257.2 553.9M248.6 550.1L258.1 555.6M250.1 548.6L259.6 554.1M249.5 546.6L259.1 552.1M251.5 545.1L261 550.6M251.7 547.4L261.2 552.9M253.3 546.5L262.8 552M253.5 543.9L263 549.4M255.4 543.2L264.9 548.7M254.9 545.9L264.4 551.4M256.4 545.6L265.9 551.1M257.3 542.9L266.8 548.4M259 543.1L268.5 548.6M257.7 545.8L267.3 551.3M259 546.2L268.5 551.7M260.5 543.6L270 549.1" fill="none" stroke="#000" stroke-width="1" />
<path d="M268.5 551.7 L270 549.1 L271.3 550.2 L269.5 552.6 L270.3 553.7 L272.3 551.6 L272.9 553.3 L270.9 555.1 L271.2 556.8 L273.3 555.4 L273.3 557.6 L271.2 558.6 L270.9 560.6 L272.9 560.1 L272.2 562.6 L270.3 562.7 L269.5 564.7 L271.3 565.1 L270 567.6 L268.5 566.8 L267.3 568.6 L268.5 570 L266.8 572.1 L265.9 570.4 L264.4 571.9 L264.9 573.9 L263 575.4 L262.8 573.1 L261.2 574 L261 576.6 L259.1 577.3 L259.6 574.6 L258.1 574.9 L257.2 577.6 L255.5 577.4 L256.7 574.7 L255.5 574.3 L254 576.9 L252.7 575.8 L254.5 573.4 L253.7 572.3 L251.7 574.4 L251.1 572.7 L253.1 570.9 L252.8 569.2 L250.7 570.6 L250.7 568.4 L252.8 567.4 L253.1 565.4 L251.1 565.9 L251.8 563.4 L253.7 563.3 L254.5 561.3 L252.7 560.9 L254 558.4 L255.5 559.2 L256.7 557.4 L255.5 556 L257.2 553.9 L258.1 555.6 L259.6 554.1 L259.1 552.1 L261 550.6 L261.2 552.9 L262.8 552 L263 549.4 L264.9 548.7 L264.4 551.4 L265.9 551.1 L266.8 548.4 L268.5 548.6 L267.3 551.3 L268.5 551.7 L270 549.1Z" fill="#fff" stroke="#000" stroke-width="1.1" />
<path d="M269.1 554.9A12.3 7.1 -60 1 0 256.8 576.3A12.3 7.1 -60 1 0 269.1 554.9Z" fill="#fff" stroke="#000" stroke-width="1" />
<path d="M269.2 556.8A10.7 6.2 -60 1 0 258.4 575.4A10.7 6.2 -60 1 0 269.2 556.8Z" fill="#fff" stroke="#000" stroke-width="1.3" />
<path d="M268.4 558.1A9.2 5.3 -60 1 0 259.2 574.1A9.2 5.3 -60 1 0 268.4 558.1Z" fill="none" stroke="#000" stroke-width="1" />
<path d="M267.4 559.9A7.2 4.2 -60 1 0 260.2 572.3A7.2 4.2 -60 1 0 267.4 559.9Z" fill="none" stroke="#000" stroke-width="1.3" />
<path d="M152.1 482.5A16.2 9.3 -60 1 0 135.9 510.6A16.2 9.3 -60 1 0 152.1 482.5Z" fill="#fff" stroke="#000" stroke-width="1.3" />
<path d="M153.4 483.3A16.2 9.3 -60 1 0 137.2 511.3A16.2 9.3 -60 1 0 153.4 483.3Z" fill="#fff" stroke="#000" stroke-width="1.4" />
<path d="M150 489.2 L151.6 487.1 L152.4 487.9 L151 490.2 L151.7 491.7 L153.6 490.5 L153.8 491.9 L151.9 493.5 L151.6 495.6 L153.4 495.7 L152.9 497.4 L151 497.8 L149.9 500 L151 501.3 L149.9 502.8 L148.6 502 L147 503.7 L147.1 505.9 L145.7 506.8 L145.3 504.9 L143.6 505.6 L142.7 508.1 L141.4 508.3 L142 505.8 L140.7 505.4 L139 507.5 L138.2 506.7 L139.6 504.4 L138.9 502.9 L137 504.1 L136.8 502.7 L138.7 501.1 L139 499 L137.2 498.9 L137.7 497.2 L139.6 496.8 L140.7 494.6 L139.6 493.3 L140.7 491.8 L142 492.6 L143.6 490.9 L143.5 488.7 L144.9 487.8 L145.3 489.7 L147 489 L147.9 486.5 L149.2 486.3 L148.6 488.8 L150 489.2Z" fill="none" stroke="#000" stroke-width="1.4" />
<path d="M98.9 605.2 L93.6 625 L78.4 636.8 L68.5 628.9 L73.8 609.1 L89 597.3Z" fill="#fff" stroke="#000" stroke-width="1.3" />
<path d="M98.9 605.2 L93.6 625 L99.2 628.2 L104.5 608.5Z" fill="#fff" stroke="#000" stroke-width="1.1" />
<path d="M93.6 625 L78.4 636.8 L84.1 640.1 L99.2 628.2Z" fill="#fff" stroke="#000" stroke-width="1.1" />
<path d="M78.4 636.8 L68.5 628.9 L74.2 632.1 L84.1 640.1Z" fill="#fff" stroke="#000" stroke-width="1.1" />
<path d="M68.5 628.9 L73.8 609.1 L79.4 612.4 L74.2 632.1Z" fill="#fff" stroke="#000" stroke-width="1.1" />
<path d="M73.8 609.1 L89 597.3 L94.6 600.5 L79.4 612.4Z" fill="#fff" stroke="#000" stroke-width="1.1" />
<path d="M89 597.3 L98.9 605.2 L104.5 608.5 L94.6 600.5Z" fill="#fff" stroke="#000" stroke-width="1.1" />
<path d="M104.5 608.5 L99.2 628.2 L84.1 640.1 L74.2 632.1 L79.4 612.4 L94.6 600.5Z" fill="#fff" stroke="#000" stroke-width="1.1" />
<path d="M100.1 603.7A19.8 11.4 -60 1 0 80.3 637.9A19.8 11.4 -60 1 0 100.1 603.7Z" fill="#fff" stroke="#000" stroke-width="1.3" />
<path d="M96 610.8A11.6 6.7 -60 1 0 84.4 630.8A11.6 6.7 -60 1 0 96 610.8Z" fill="none" stroke="#000" stroke-width="1" />
<path d="M95.1 612.3A9.8 5.7 -60 1 0 85.3 629.3A9.8 5.7 -60 1 0 95.1 612.3Z" fill="#fff" stroke="#000" stroke-width="1.3" />
<path d="M82.5 627.3 L82 626.3 L81.6 625.1 L81.5 623.8 L81.6 622.4 L82 620.8 L82.5 619.3 L83.2 617.7 L84 616.2 L85 614.9 L86.1 613.7 L87.3 612.6 L88.5 611.8 L89.7 611.2 L90.8 610.9 L91.9 610.9" fill="none" stroke="#000" stroke-width="1" />
<path d="M80.7 626.3 L80.2 625.3 L79.9 624.1 L79.8 622.8 L79.9 621.4 L80.2 619.8 L80.7 618.3 L81.4 616.7 L82.3 615.2 L83.3 613.9 L84.4 612.7 L85.5 611.6 L86.7 610.8 L87.9 610.2 L89.1 609.9 L90.2 609.9" fill="none" stroke="#000" stroke-width="1" />
<path d="M79 625.3 L78.5 624.3 L78.2 623.1 L78.1 621.8 L78.2 620.4 L78.5 618.8 L79 617.3 L79.7 615.7 L80.6 614.2 L81.5 612.9 L82.6 611.7 L83.8 610.6 L85 609.8 L86.2 609.2 L87.4 608.9 L88.5 608.9" fill="none" stroke="#000" stroke-width="1" />
<path d="M442.6 412.4 L437.4 431.7 L422.7 443.2 L413 435.5 L418.2 416.2 L432.9 404.7Z" fill="#fff" stroke="#000" stroke-width="1.3" />
<path d="M442.6 412.4 L437.4 431.7 L443.1 434.9 L448.2 415.7Z" fill="#fff" stroke="#000" stroke-width="1.1" />
<path d="M437.4 431.7 L422.7 443.2 L428.3 446.5 L443.1 434.9Z" fill="#fff" stroke="#000" stroke-width="1.1" />
<path d="M422.7 443.2 L413 435.5 L418.7 438.7 L428.3 446.5Z" fill="#fff" stroke="#000" stroke-width="1.1" />
<path d="M413 435.5 L418.2 416.2 L423.8 419.5 L418.7 438.7Z" fill="#fff" stroke="#000" stroke-width="1.1" />
<path d="M418.2 416.2 L432.9 404.7 L438.6 407.9 L423.8 419.5Z" fill="#fff" stroke="#000" stroke-width="1.1" />
<path d="M432.9 404.7 L442.6 412.4 L448.2 415.7 L438.6 407.9Z" fill="#fff" stroke="#000" stroke-width="1.1" />
<path d="M448.2 415.7 L443.1 434.9 L428.3 446.5 L418.7 438.7 L423.8 419.5 L438.6 407.9Z" fill="#fff" stroke="#000" stroke-width="1.1" />
<path d="M443.9 411A19.3 11.1 -60 1 0 424.7 444.4A19.3 11.1 -60 1 0 443.9 411Z" fill="#fff" stroke="#000" stroke-width="1.3" />
<path d="M440.6 416.8A12.6 7.3 -60 1 0 428 438.6A12.6 7.3 -60 1 0 440.6 416.8Z" fill="none" stroke="#000" stroke-width="1" />
<path d="M439.7 418.3A10.8 6.2 -60 1 0 428.9 437.1A10.8 6.2 -60 1 0 439.7 418.3Z" fill="#fff" stroke="#000" stroke-width="1.3" />
<path d="M426 434.9 L425.4 433.9 L425 432.6 L424.9 431.1 L425 429.5 L425.4 427.8 L426 426.1 L426.7 424.4 L427.7 422.8 L428.8 421.3 L430 419.9 L431.2 418.8 L432.6 417.9 L433.9 417.3 L435.2 416.9 L436.4 416.9" fill="none" stroke="#000" stroke-width="1" />
<path d="M424.2 433.9 L423.7 432.9 L423.3 431.6 L423.2 430.1 L423.3 428.5 L423.7 426.8 L424.2 425.1 L425 423.4 L425.9 421.8 L427 420.3 L428.2 418.9 L429.5 417.8 L430.8 416.9 L432.2 416.3 L433.4 415.9 L434.7 415.9" fill="none" stroke="#000" stroke-width="1" />
<path d="M422.5 432.9 L421.9 431.9 L421.6 430.6 L421.5 429.1 L421.6 427.5 L421.9 425.8 L422.5 424.1 L423.3 422.4 L424.2 420.8 L425.3 419.3 L426.5 417.9 L427.8 416.8 L429.1 415.9 L430.4 415.3 L431.7 414.9 L432.9 414.9" fill="none" stroke="#000" stroke-width="1" />
<path d="M116.4 625.5 L116.8 621.7 L120.7 620.6 L119.5 624.7Z" fill="#fff" stroke="#000" stroke-width="1.3" />
<path d="M116.8 621.7L120.3 623.7" stroke="#000" stroke-width="1.3" fill="none" />
<path d="M120.7 620.6L124.2 622.6" stroke="#000" stroke-width="1.3" fill="none" />
<path d="M119.9 627.5 L120.3 623.7 L124.2 622.6 L122.9 626.7Z" fill="#fff" stroke="#000" stroke-width="1.3" />
<path d="M128.3 629.1 L130.7 626.1 L132.4 630.4 L129.6 632.6Z" fill="#fff" stroke="#000" stroke-width="1.3" />
<path d="M130.7 626.1L133.3 627.6" stroke="#000" stroke-width="1.3" fill="none" />
<path d="M132.4 630.4L135 631.9" stroke="#000" stroke-width="1.3" fill="none" />
<path d="M130.9 630.6 L133.3 627.6 L135 631.9 L132.2 634.1Z" fill="#fff" stroke="#000" stroke-width="1.3" />
<path d="M104.4 651 L100.1 656.3 L97.9 648.2 L102.9 645.3Z" fill="#fff" stroke="#000" stroke-width="1.3" />
<path d="M100.1 656.3L104.4 658.8" stroke="#000" stroke-width="1.3" fill="none" />
<path d="M97.9 648.2L102.2 650.7" stroke="#000" stroke-width="1.3" fill="none" />
<path d="M108.7 653.5 L104.4 658.8 L102.2 650.7 L107.2 647.8Z" fill="#fff" stroke="#000" stroke-width="1.3" />
<path d="M125.9 625.6A17.3 10 -60 1 0 108.6 655.5A17.3 10 -60 1 0 125.9 625.6Z" fill="#fff" stroke="#000" stroke-width="1.3" />
<path d="M127.2 626.3A17.3 10 -60 1 0 109.8 656.3A17.3 10 -60 1 0 127.2 626.3Z" fill="#fff" stroke="#000" stroke-width="1.3" />
<path d="M123.3 633A9.6 5.5 -60 1 0 113.7 649.6A9.6 5.5 -60 1 0 123.3 633Z" fill="none" stroke="#000" stroke-width="1.3" />
<path d="M111 647.4 L110.6 646.4 L110.4 645.1 L110.4 643.8 L110.6 642.3 L111.1 640.8 L111.6 639.3 L112.4 637.8 L113.3 636.4 L114.3 635.1 L115.4 634 L116.6 633.1 L117.8 632.4 L119 632 L120.1 631.8" fill="none" stroke="#000" stroke-width="1" />
<path d="M185.6 635.2 L173.5 628.2 L173.5 628.2 L171.6 627.3 L169.6 626.8 L167.4 626.6 L165.1 626.7 L162.7 627.2 L160.3 628 L157.8 629.2 L155.2 630.6 L152.7 632.4 L150.3 634.4 L147.9 636.7 L145.6 639.2 L143.4 641.9 L141.4 644.8 L139.5 647.8 L137.8 650.9 L136.3 654.1 L135.1 657.4 L134.1 660.6 L133.3 663.8 L132.8 667 L132.5 670 L132.5 672.9 L132.8 675.7 L133.3 678.2 L134.1 680.5 L135.1 682.6 L136.3 684.4 L137.8 685.9 L139.5 687 L151.6 694Z" fill="#fff" stroke="none" stroke-width="0" />
<path d="M141.8 683.1 L139.5 687 L137.1 685.1 L139.6 681.5 L137.9 679.3 L135.1 682.6 L133.6 679.4 L136.7 676.5 L135.9 673.3 L132.8 675.7 L132.5 671.5 L135.6 669.6 L135.9 665.7 L132.8 667 L133.6 662.2 L136.7 661.6 L137.9 657.4 L135.1 657.4 L137.1 652.5 L139.6 653.2 L141.8 649.1 L139.5 647.8 L142.4 643.3 L144.2 645.2 L147 641.6 L145.6 639.2 L149.1 635.5 L150.1 638.4 L153.2 635.7 L152.7 632.4 L156.5 629.8 L156.5 633.5 L159.8 631.9 L160.3 628 L163.9 626.9 L163 631 L166 630.7 L167.4 626.6 L170.6 627 L168.8 631 L171.2 632.1 L173.5 628.2" fill="none" stroke="#000" stroke-width="1.3" />
<path d="M141.8 683.1L153.9 690.1M139.5 687L151.6 694M137.1 685.1L149.2 692.1M139.6 681.5L151.7 688.5M137.9 679.3L150 686.3M135.1 682.6L147.2 689.6M133.6 679.4L145.8 686.4M136.7 676.5L148.8 683.5M135.9 673.3L148 680.3M132.8 675.7L144.9 682.7M132.5 671.5L144.6 678.5M135.6 669.6L147.8 676.6M135.9 665.7L148 672.7M132.8 667L144.9 674M133.6 662.2L145.8 669.2M136.7 661.6L148.8 668.6M137.9 657.4L150 664.4M135.1 657.4L147.2 664.4M137.1 652.5L149.2 659.5M139.6 653.2L151.8 660.2M141.8 649.1L153.9 656.1M139.5 647.8L151.6 654.8M142.4 643.3L154.5 650.3M144.2 645.2L156.4 652.2M147 641.6L159.2 648.6M145.6 639.2L157.7 646.2M149.1 635.5L161.2 642.5M150.1 638.4L162.2 645.4M153.2 635.7L165.4 642.7M152.7 632.4L164.9 639.4M156.5 629.8L168.6 636.8M156.5 633.5L168.6 640.5M159.8 631.9L171.9 638.9M160.3 628L172.4 635M163.9 626.9L176.1 633.9M163 631L175.1 638M166 630.7L178.1 637.7M167.4 626.6L179.5 633.6M170.6 627L182.8 634M168.8 631L180.9 638M171.2 632.1L183.4 639.1M173.5 628.2L185.6 635.2" fill="none" stroke="#000" stroke-width="1.1" />
<path d="M183.4 639.1 L186.1 635.4 L187.7 636.7 L185.5 640.7 L187.2 642.9 L190.3 640.1 L191.3 642.2 L188.5 645.7 L189.2 648.9 L192.5 647.2 L192.7 650 L189.5 652.6 L189.2 656.5 L192.3 656 L191.7 659.2 L188.5 660.6 L187.2 664.8 L189.7 665.6 L188.4 668.9 L185.5 669 L183.4 673.1 L185.2 675.2 L183.2 678.2 L180.9 677 L178.1 680.6 L179 683.7 L176.6 686.1 L175.1 683.8 L171.9 686.5 L171.8 690.3 L169.2 692 L168.6 688.7 L165.4 690.3 L164.2 694.4 L161.8 695.2 L162.2 691.2 L159.2 691.5 L157.1 695.6 L155 695.3 L156.4 691.2 L153.9 690.1 L151.2 693.8 L149.6 692.5 L151.7 688.5 L150 686.3 L146.9 689.1 L146 687 L148.8 683.5 L148 680.3 L144.8 682 L144.6 679.2 L147.8 676.6 L148 672.7 L145 673.2 L145.6 670 L148.8 668.6 L150 664.4 L147.5 663.6 L148.8 660.3 L151.8 660.2 L153.9 656.1 L152.1 654 L154 651 L156.4 652.2 L159.2 648.6 L158.3 645.5 L160.6 643.1 L162.2 645.4 L165.4 642.7 L165.5 638.9 L168 637.2 L168.6 640.5 L171.9 638.9 L173 634.8 L175.5 634 L175.1 638 L178.1 637.7 L180.1 633.6 L182.2 633.9 L180.9 638 L183.4 639.1Z" fill="#fff" stroke="#000" stroke-width="1.3" />
<path d="M182.4 640.8A27.5 15.9 -60 1 0 154.9 688.4A27.5 15.9 -60 1 0 182.4 640.8Z" fill="none" stroke="#000" stroke-width="1" />
<path d="M190.8 649.1 L180.9 643.4 L180.9 643.4 L179.1 642.6 L177 642.3 L174.8 642.3 L172.5 642.9 L170.1 643.8 L167.7 645.1 L165.3 646.9 L163 648.9 L160.8 651.3 L158.7 654 L156.8 656.8 L155.2 659.8 L153.8 662.9 L152.7 666 L151.9 669.1 L151.4 672.1 L151.3 675 L151.5 677.6 L152.1 680 L152.9 682.1 L154.1 683.9 L155.5 685.3 L166.3 691.6Z" fill="#fff" stroke="#000" stroke-width="1.3" />
<path d="M190.8 649.1A24.5 14.1 -60 1 0 166.3 691.6A24.5 14.1 -60 1 0 190.8 649.1Z" fill="#fff" stroke="#000" stroke-width="1.3" />
<path d="M189.2 658.2A15.3 8.8 -60 1 0 173.8 684.8A15.3 8.8 -60 1 0 189.2 658.2Z" fill="#fff" stroke="#000" stroke-width="1.3" />
<path d="M169.5 681.2 L168.9 679.5 L168.6 677.6 L168.6 675.4 L168.9 673.1 L169.5 670.6 L170.5 668.2 L171.7 665.8 L173.1 663.6 L174.8 661.6 L176.5 659.8 L178.4 658.4 L180.3 657.3 L182.1 656.6 L183.9 656.3" fill="none" stroke="#000" stroke-width="1" />
<path d="M189.2 655.4 L192.6 650.5M191.3 659.4 L195.4 655.8M189.2 655.4 L189.9 656.2 L190.4 657.1 L190.9 658.2 L191.3 659.4M192.6 650.5 L183.5 645.2M190.5 669.6 L194.4 669.3M187.7 676 L190.6 677.8M190.5 669.6 L190 671.2 L189.3 672.8 L188.5 674.4 L187.7 676M179.9 684.6 L180.4 689.2M175 687 L173.8 692.3M179.9 684.6 L178.7 685.4 L177.4 686.1 L176.2 686.6 L175 687M168 685.3 L164.6 690.2M165.9 681.3 L161.8 684.9M168 685.3 L167.3 684.5 L166.7 683.6 L166.3 682.5 L165.9 681.3M164.6 690.2 L155.5 685M161.8 684.9 L152.7 679.6M166.6 671.1 L162.8 671.4M169.5 664.7 L166.6 662.9M166.6 671.1 L167.2 669.5 L167.9 667.9 L168.6 666.3 L169.5 664.7M162.8 671.4 L153.7 666.1M166.6 662.9 L157.5 657.7M177.2 656.1 L176.8 651.5M182.2 653.7 L183.4 648.4M177.2 656.1 L178.5 655.3 L179.7 654.6 L181 654.1 L182.2 653.7M176.8 651.5 L167.7 646.3M183.4 648.4 L174.3 643.1" fill="none" stroke="#000" stroke-width="1.3" />
<path d="M209.5 678 L212.7 675.4 L234.3 687.9 L234.3 692.9 L231.2 695.5 L209.5 683Z" fill="#fff" stroke="#000" stroke-width="1.3" />
<path d="M209.5 678 L231.2 690.5 L234.3 687.9M231.2 690.5 L231.2 695.5" fill="none" stroke="#000" stroke-width="1.3" />
<path d="M242.3 702.7 L252.2 706.9 L252.2 705.4 L260.4 709" fill="none" stroke="#000" stroke-width="1.1" stroke-dasharray="14 1.2 2.2 1.2 2.2 1.2"/>
<path d="M259.5 709 L260.4 705.4 L264 705.4 L272.2 710" fill="none" stroke="#000" stroke-width="1.1" stroke-dasharray="14 1.2 2.2 1.2 2.2 1.2"/>
<path d="M243.7 717.2 L248.1 727.6 L271.3 741.4" fill="none" stroke="#000" stroke-width="1.1" stroke-dasharray="14 1.2 2.2 1.2 2.2 1.2"/>
<ellipse cx="240.8" cy="710" rx="4.0" ry="7.6" transform="rotate(-16 240.8 710)" fill="#fff" stroke="#000" stroke-width="1.05"/>
<path d="M246.3 704.1C245.9 705.3 244.1 708.4 244.1 710.9C244.1 713.3 245.9 717.7 246.3 719" fill="none" stroke="#000" stroke-width="1.1" stroke-dasharray="14 1.2 2.2 1.2 2.2 1.2"/>
<path d="M249.9 705.8C249.5 707 247.6 710.1 247.7 713C247.8 715.9 250.1 721.5 250.6 723.2" fill="none" stroke="#000" stroke-width="1.1" stroke-dasharray="14 1.2 2.2 1.2 2.2 1.2"/>
<path d="M253.2 707.2C252.9 708.7 251.6 712.9 251.7 716.3C251.9 719.7 253.7 725.7 254.1 727.6" fill="none" stroke="#000" stroke-width="1.1" stroke-dasharray="14 1.2 2.2 1.2 2.2 1.2"/>
<path d="M295.8 682.7C292.3 682.1 289.6 685.1 286.7 687.3C283.9 689.4 280.7 692.4 278.6 695.4C276.5 698.5 275 700.4 274 705.4C273.1 710.4 273.1 718.4 272.8 725.4C272.4 732.3 272.7 741 271.9 747.2C271 753.4 269.9 758.2 267.7 762.6C265.5 767 261.6 770.6 258.6 773.5C255.6 776.4 250.9 777.6 249.9 780.2C248.8 782.8 250.5 785.7 252.2 788.9C254 792.2 256.8 796.8 260.4 799.8C264 802.9 269.2 805.3 274 807.1C278.9 808.9 284.5 812.5 289.5 810.7C294.5 808.9 300.4 805.9 304 796.2C307.6 786.5 309.7 765.9 311.3 752.6C312.8 739.3 313.7 726.6 313.1 716.3C312.5 706 310.5 696.5 307.6 690.9C304.7 685.3 299.3 683.3 295.8 682.7Z" fill="#fff" stroke="#000" stroke-width="1.1" stroke-dasharray="14 1.2 2.2 1.2 2.2 1.2"/>
<path d="M282.6 697.2C282.1 698.9 280.1 702.2 279.5 707.2C278.8 712.2 278.8 720.2 278.6 727.2C278.3 734.2 278.7 742.5 277.8 749C277 755.5 275.6 761.4 273.5 766.2C271.3 771.1 267.8 774.9 265 778C262.1 781.2 257.8 784.1 256.4 785.3" fill="none" stroke="#000" stroke-width="1.1" stroke-dasharray="14 1.2 2.2 1.2 2.2 1.2"/>
<path d="M288 702.7C288 706.8 287.8 719.2 287.7 727.2C287.5 735.2 288.1 743.5 287.3 750.8C286.4 758.1 284.9 765.3 282.6 770.8C280.2 776.3 276 780.5 273.1 783.8C270.3 787.2 266.8 789.6 265.5 790.7" fill="none" stroke="#000" stroke-width="1.1" stroke-dasharray="14 1.2 2.2 1.2 2.2 1.2"/>
<path d="M249.9 780.2 L251 786.2 L256.4 785.3 L258.2 791.1 L265.5 790.7 L267.3 798" fill="none" stroke="#000" stroke-width="1.1" stroke-dasharray="14 1.2 2.2 1.2 2.2 1.2"/>
<path d="M278.6 695.4 L282.6 697.2 L288 702.7" fill="none" stroke="#000" stroke-width="1.1" stroke-dasharray="14 1.2 2.2 1.2 2.2 1.2"/>
<path d="M294.9 703.6C295.6 705.7 298.5 711.5 298.9 716.3C299.4 721.2 297.3 728.3 297.6 732.7C297.9 737 300.2 741 300.7 742.6" fill="none" stroke="#000" stroke-width="1.1" stroke-dasharray="14 1.2 2.2 1.2 2.2 1.2"/>
<path d="M301.3 703.6C301.9 705.7 304.6 711.2 304.9 716.3C305.2 721.5 303.1 729.6 303.1 734.5C303.1 739.3 304.6 743.5 304.9 745.4" fill="none" stroke="#000" stroke-width="1.1" stroke-dasharray="14 1.2 2.2 1.2 2.2 1.2"/>
<path d="M299.5 747.2C299.3 748.7 297.9 754.1 298.5 756.3C299.1 758.4 302.3 759.3 303.1 759.9" fill="none" stroke="#000" stroke-width="1.1" stroke-dasharray="14 1.2 2.2 1.2 2.2 1.2"/>
<path d="M289.5 776.2 L302.2 769.9" fill="none" stroke="#000" stroke-width="1.1" stroke-dasharray="14 1.2 2.2 1.2 2.2 1.2"/>
<path d="M291.3 782 L304 776.2" fill="none" stroke="#000" stroke-width="1.1" stroke-dasharray="14 1.2 2.2 1.2 2.2 1.2"/>
<path d="M289.5 776.2C289.3 776.8 288.4 778.5 288.7 779.5C289 780.5 290.9 781.6 291.3 782" fill="none" stroke="#000" stroke-width="1.1" stroke-dasharray="14 1.2 2.2 1.2 2.2 1.2"/>
<path d="M312.7 715.4C314.5 710 317.5 709.7 320.3 707.2C323.2 704.7 326.6 701.7 330 700.3C333.3 699 337 698.7 340.3 699.2C343.6 699.8 346.6 701.2 349.9 703.6C353.3 706 358.2 708.7 360.3 713.6C362.3 718.4 361.6 725.5 362.1 732.7C362.5 739.8 363 745.7 363 756.3C363 766.8 363.4 785.2 362.1 796.2C360.8 807.1 359.2 816.8 355 822C350.8 827.2 343.7 826.9 336.7 827.4C329.7 828 319.9 826.9 313.1 825.2C306.3 823.6 300.4 820.6 295.8 817.6C291.3 814.6 287.9 810.4 285.8 807.1C283.8 803.8 282 800.6 283.7 798C285.3 795.4 292.3 794.5 295.8 791.7C299.3 788.8 302.5 785.8 304.5 780.8C306.6 775.8 307.1 768.5 308 761.7C308.9 754.9 309 747.6 309.8 739.9C310.6 732.2 311 720.8 312.7 715.4Z" fill="#fff" stroke="#000" stroke-width="1.1" stroke-dasharray="14 1.2 2.2 1.2 2.2 1.2"/>
<path d="M320.3 721.4C319.8 727.8 318.4 749.4 317.1 759.9C315.7 770.4 314.8 778.1 312.2 784.4C309.5 790.7 305 794.2 301.3 797.6C297.5 801.1 291.7 804 289.8 805.3" fill="none" stroke="#000" stroke-width="1.1" stroke-dasharray="14 1.2 2.2 1.2 2.2 1.2"/>
<path d="M329.4 727.6C328.6 734.6 326.4 759.1 324.3 769.9C322.3 780.6 320.1 786.4 317.1 792.2C314 798 309.6 801.8 306.2 804.9C302.8 808.1 298.3 810.1 296.7 811.1" fill="none" stroke="#000" stroke-width="1.1" stroke-dasharray="14 1.2 2.2 1.2 2.2 1.2"/>
<path d="M283.7 798 L284.9 803.5 L289.8 805.3 L291.6 809.8 L296.7 811.1 L298.9 815.3" fill="none" stroke="#000" stroke-width="1.1" stroke-dasharray="14 1.2 2.2 1.2 2.2 1.2"/>
<path d="M289.8 805.3C291.3 806.8 294.1 812.2 298.5 814.7C303 817.2 309.1 819.9 316.7 820.2C324.3 820.5 336.7 819 343.9 816.5C351.2 814 357.5 807.1 360.3 805.3" fill="none" stroke="#000" stroke-width="1.1" stroke-dasharray="14 1.2 2.2 1.2 2.2 1.2"/>
<path d="M296.7 811.1C298.5 812 302.8 815.3 307.6 816.5C312.5 817.7 319.7 818.9 325.8 818.3C331.8 817.8 340.9 814.3 343.9 813.4" fill="none" stroke="#000" stroke-width="1.1" stroke-dasharray="14 1.2 2.2 1.2 2.2 1.2"/>
<path d="M320.3 721.4C321.8 720.2 325.9 715.9 329.4 714.1C332.9 712.3 337.6 710.6 341.2 710.5C344.8 710.4 348.9 711.4 351.2 713.6C353.5 715.8 354.5 721.9 355.2 723.6" fill="none" stroke="#000" stroke-width="1.1" stroke-dasharray="14 1.2 2.2 1.2 2.2 1.2"/>
<path d="M312.7 715.4 L320.3 721.4 L329.4 727.6" fill="none" stroke="#000" stroke-width="1.1" stroke-dasharray="14 1.2 2.2 1.2 2.2 1.2"/>
<path d="M329.4 727.6C330.6 726.7 333.9 723.3 336.7 722.1C339.4 720.9 343.2 719.9 345.7 720.3C348.3 720.7 351 723.8 352.1 724.5" fill="none" stroke="#000" stroke-width="1.1" stroke-dasharray="14 1.2 2.2 1.2 2.2 1.2"/>
<path d="M352.1 718.1 L361.7 718.1 L361.7 732.7" fill="none" stroke="#000" stroke-width="1.1" stroke-dasharray="14 1.2 2.2 1.2 2.2 1.2"/>
<path d="M352.1 718.1 L352.1 732.7" fill="none" stroke="#000" stroke-width="1.1" stroke-dasharray="14 1.2 2.2 1.2 2.2 1.2"/>
<path d="M378 736.4A44 25.4 -60 1 0 334 812.6A44 25.4 -60 1 0 378 736.4Z" fill="#fff" stroke="#000" stroke-width="1.1" stroke-dasharray="14 1.2 2.2 1.2 2.2 1.2"/>
<path d="M375.2 741.2A38.5 22.2 -60 1 0 336.8 807.8A38.5 22.2 -60 1 0 375.2 741.2Z" fill="none" stroke="#000" stroke-width="1.1" stroke-dasharray="14 1.2 2.2 1.2 2.2 1.2"/>
<path d="M373.8 743.8A35.5 20.5 -60 1 0 338.2 805.2A35.5 20.5 -60 1 0 373.8 743.8Z" fill="none" stroke="#000" stroke-width="1.1" stroke-dasharray="14 1.2 2.2 1.2 2.2 1.2"/>
<path d="M370.8 749A29.5 17 -60 1 0 341.2 800A29.5 17 -60 1 0 370.8 749Z" fill="none" stroke="#000" stroke-width="1.1" stroke-dasharray="14 1.2 2.2 1.2 2.2 1.2"/>
<path d="M369.2 751.6A26.5 15.3 -60 1 0 342.8 797.4A26.5 15.3 -60 1 0 369.2 751.6Z" fill="none" stroke="#000" stroke-width="1.1" stroke-dasharray="14 1.2 2.2 1.2 2.2 1.2"/>
<path d="M335.2 795.1a2.6 2.6 0 1 0 0.1 0M333.4 779.9a2.6 2.6 0 1 0 0.1 0M340.3 761.5a2.6 2.6 0 1 0 0.1 0M353.2 747.2a2.6 2.6 0 1 0 0.1 0M367.1 742.3a2.6 2.6 0 1 0 0.1 0M376.8 748.7a2.6 2.6 0 1 0 0.1 0M378.6 763.9a2.6 2.6 0 1 0 0.1 0" fill="none" stroke="#000" stroke-width="0.9" />
<path d="M368 769.4 L361.8 766.3 L361.8 766.3 L360.3 765.8 L358.7 765.7 L357 766.1 L355.2 766.9 L353.4 768.1 L351.7 769.6 L350.1 771.4 L348.6 773.5 L347.3 775.8 L346.3 778.2 L345.5 780.6 L345 783 L344.8 785.3 L344.9 787.5 L345.4 789.4 L346.1 791 L347.1 792.2 L348.3 793.1 L354.6 796.2Z" fill="#fff" stroke="#000" stroke-width="1.1" />
<path d="M349.7 790.4 L348.1 793.5 L346.5 792.3 L348.4 789.4 L347.5 788 L345.3 790.4 L344.6 788 L347 786.1 L346.9 783.9 L344.5 785.2 L344.8 782.1 L347.1 781.5 L347.8 779 L345.7 778.9 L347.1 775.7 L348.9 776.6 L350.2 774.3 L348.8 772.7 L350.9 770.1 L351.8 772.2 L353.6 770.6 L353.1 767.9 L355.5 766.3 L355.4 769.4 L357.2 768.7 L357.8 765.5 L360 765.3 L358.9 768.5 L360.4 768.9 L362 765.8" fill="none" stroke="#000" stroke-width="1.1" />
<path d="M349.7 790.4L355.9 793.5M348.1 793.5L354.4 796.7M346.5 792.3L352.8 795.4M348.4 789.4L354.7 792.6M347.5 788L353.8 791.1M345.3 790.4L351.6 793.6M344.6 788L350.9 791.1M347 786.1L353.3 789.3M346.9 783.9L353.1 787.1M344.5 785.2L350.7 788.3M344.8 782.1L351.1 785.2M347.1 781.5L353.4 784.7M347.8 779L354.1 782.2M345.7 778.9L352 782M347.1 775.7L353.3 778.8M348.9 776.6L355.1 779.7M350.2 774.3L356.5 777.4M348.8 772.7L355.1 775.8M350.9 770.1L357.1 773.2M351.8 772.2L358.1 775.4M353.6 770.6L359.8 773.7M353.1 767.9L359.4 771M355.5 766.3L361.8 769.5M355.4 769.4L361.7 772.5M357.2 768.7L363.5 771.8M357.8 765.5L364.1 768.6M360 765.3L366.3 768.4M358.9 768.5L365.2 771.7M360.4 768.9L366.7 772.1M362 765.8L368.3 768.9" fill="none" stroke="#000" stroke-width="1.1" />
<path d="M371.2 767.6 L369.4 766.7 L369.4 766.7 L367.6 766.1 L365.7 766.1 L363.6 766.5 L361.5 767.5 L359.4 768.9 L357.3 770.7 L355.3 772.9 L353.6 775.4 L352 778.2 L350.8 781 L349.8 783.9 L349.2 786.8 L349 789.6 L349.2 792.1 L349.7 794.4 L350.6 796.3 L351.8 797.8 L353.3 798.9 L355 799.8Z" fill="#fff" stroke="#000" stroke-width="1.1" />
<path d="M371.2 767.6A18 10.4 -63.4 1 0 355 799.8A18 10.4 -63.4 1 0 371.2 767.6Z" fill="#fff" stroke="#000" stroke-width="1.1" />
<path d="M372.9 768.5 L371.2 767.6 L371.2 767.6 L369.4 767 L367.5 767 L365.4 767.4 L363.3 768.4 L361.2 769.8 L359.1 771.6 L357.1 773.8 L355.4 776.3 L353.8 779 L352.6 781.9 L351.6 784.8 L351 787.7 L350.8 790.5 L351 793 L351.5 795.3 L352.4 797.2 L353.6 798.7 L355 799.8 L356.8 800.7Z" fill="#fff" stroke="#000" stroke-width="1.1" />
<path d="M372.9 768.5A18 10.4 -63.4 1 0 356.8 800.7A18 10.4 -63.4 1 0 372.9 768.5Z" fill="#fff" stroke="#000" stroke-width="1.1" />
<path d="M393.6 783 L371.3 771.8 L371.3 771.8 L369.9 771.4 L368.4 771.3 L366.7 771.7 L365.1 772.4 L363.4 773.5 L361.7 775 L360.1 776.7 L358.7 778.7 L357.5 780.9 L356.5 783.2 L355.8 785.5 L355.3 787.8 L355.1 790 L355.2 792 L355.7 793.8 L356.3 795.3 L357.3 796.5 L358.5 797.4 L380.8 808.6Z" fill="#fff" stroke="#000" stroke-width="1.1" />
<path d="M393.6 783A14.3 8.3 -63.4 1 0 380.8 808.6A14.3 8.3 -63.4 1 0 393.6 783Z" fill="#fff" stroke="#000" stroke-width="1.1" />
<path d="M417.2 800.7 L392.9 784.4 L392.9 784.4 L391.7 784 L390.3 784 L388.9 784.3 L387.4 785 L385.9 786 L384.4 787.2 L383 788.8 L381.8 790.6 L380.7 792.5 L379.8 794.5 L379.1 796.6 L378.7 798.6 L378.6 800.6 L378.7 802.4 L379 804 L379.7 805.3 L380.5 806.4 L381.6 807.1 L409.1 816.8Z" fill="#fff" stroke="#000" stroke-width="1.1" />
<path d="M417.2 800.7A9 5.2 -63.4 1 0 409.1 816.8A9 5.2 -63.4 1 0 417.2 800.7Z" fill="#fff" stroke="#000" stroke-width="1.1" />
<path d="M435.3 813.6 L415.6 803.8 L415.6 803.8 L415.1 803.6 L414.5 803.6 L413.9 803.8 L413.2 804.1 L412.6 804.5 L411.9 805 L411.3 805.7 L410.8 806.5 L410.3 807.3 L409.9 808.2 L409.7 809.1 L409.5 810 L409.4 810.8 L409.5 811.6 L409.6 812.3 L409.9 812.9 L410.2 813.3 L410.7 813.6 L430.4 823.5Z" fill="#fff" stroke="#000" stroke-width="1.1" />
<path d="M435.3 813.6A5.5 3.2 -63.4 1 0 430.4 823.5A5.5 3.2 -63.4 1 0 435.3 813.6Z" fill="#fff" stroke="#000" stroke-width="1.1" />
<path d="M433 812.5 L434.1 813.9 L434.2 816.2 L433.3 818.8 L431.7 821.1 L429.8 822.4 L428 822.3" fill="none" stroke="#000" stroke-width="1" />
<path d="M430.6 811.3 L431.7 812.7 L431.9 815 L431 817.7 L429.4 819.9 L427.5 821.2 L425.7 821.2" fill="none" stroke="#000" stroke-width="1" />
<path d="M428.3 810.2 L429.4 811.5 L429.5 813.8 L428.7 816.5 L427.1 818.8 L425.1 820 L423.4 820" fill="none" stroke="#000" stroke-width="1" />
<path d="M426 809 L427.1 810.4 L427.2 812.7 L426.4 815.3 L424.8 817.6 L422.8 818.9 L421.1 818.8" fill="none" stroke="#000" stroke-width="1" />
<path d="M423.7 807.8 L424.8 809.2 L424.9 811.5 L424 814.2 L422.4 816.4 L420.5 817.7 L418.7 817.7" fill="none" stroke="#000" stroke-width="1" />
<path d="M421.3 806.7 L422.4 808 L422.6 810.4 L421.7 813 L420.1 815.3 L418.2 816.6 L416.4 816.5" fill="none" stroke="#000" stroke-width="1" />
<path d="M419 805.5 L420.1 806.9 L420.2 809.2 L419.4 811.8 L417.8 814.1 L415.8 815.4 L414.1 815.3" fill="none" stroke="#000" stroke-width="1" />
<path d="M434.3 815.7A3.2 1.8 -63.4 1 0 431.4 821.4A3.2 1.8 -63.4 1 0 434.3 815.7Z" fill="none" stroke="#000" stroke-width="1" />
<path d="M433.5 817.1A1.6 0.9 -63.4 1 0 432.1 820A1.6 0.9 -63.4 1 0 433.5 817.1Z" fill="none" stroke="#000" stroke-width="0.9" />
<rect x="393.9" y="792.1" width="10" height="3.6" rx="1.6" transform="rotate(26.6 398.9 801.6)" fill="none" stroke="#000" stroke-width="1"/>
<path d="M381.8 755.1 L384.3 757.3 L384.3 764.7 L379.5 766.2" fill="none" stroke="#000" stroke-width="1.1" stroke-dasharray="14 1.2 2.2 1.2 2.2 1.2"/>
<path d="M371.6 758.3 L374.8 761.5 L378.6 759.9 L381.8 763.7" fill="none" stroke="#000" stroke-width="1.1" stroke-dasharray="14 1.2 2.2 1.2 2.2 1.2"/>
<path d="M294.2 601.6C294.5 598 295.8 594.6 298.1 592.5C300.3 590.3 304.1 588.5 307.8 588.6C311.5 588.7 317.1 590.8 320.3 593.2C323.5 595.5 326.3 598.8 327.1 602.7C327.9 606.5 325.2 608.7 325.3 616.3C325.4 623.9 326.4 638.2 327.6 648.1C328.7 657.9 330.6 668.1 332.1 675.3C333.6 682.5 336.3 687.6 336.6 691.2C336.9 694.8 337.3 694.2 333.9 696.9C330.5 699.5 320.3 703.9 316.2 707.1C312.1 710.3 311.6 711.2 309.4 716.1C307.3 721.1 306 732.8 303.3 736.6C300.6 740.4 294.9 741.9 293.1 738.8C291.3 735.8 291.3 724.5 292.6 718.4C293.9 712.4 299 708.6 301 702.5C303 696.5 304.2 691.2 304.4 682.1C304.6 673 303.5 659.4 302.1 648.1C300.8 636.7 297.8 621.8 296.5 614C295.2 606.3 293.9 605.1 294.2 601.6Z" fill="#fff" stroke="#000" stroke-width="1.1" stroke-dasharray="14 1.2 2.2 1.2 2.2 1.2"/>
<ellipse cx="318" cy="608.4" rx="6.8" ry="9.6" transform="rotate(14 318 608.4)" fill="#fff" stroke="#000" stroke-width="1.05"/>
<ellipse cx="317.1" cy="608.8" rx="5.4" ry="8.2" transform="rotate(14 317.1 608.8)" fill="none" stroke="#000" stroke-width="0.9"/>
<circle cx="299.9" cy="600.9" r="1.2" fill="none" stroke="#000" stroke-width="0.9"/>
<path d="M299.9 593.6C300.4 595.9 302.9 602.5 303.3 607.2C303.7 612 301.4 615.2 302.1 622C302.9 628.8 306.5 638.1 307.8 648.1C309.1 658.1 310.3 672.3 310.1 682.1C309.9 691.9 308.4 699.9 306.7 707.1C305 714.3 301 722.2 299.9 725.2" fill="none" stroke="#000" stroke-width="1.1" stroke-dasharray="14 1.2 2.2 1.2 2.2 1.2"/>
<path d="M310.1 623.1C310.8 627.3 313.5 638.2 314.6 648.1C315.8 657.9 316.7 673.7 316.9 682.1C317.1 690.5 316 695.7 315.8 698.4" fill="none" stroke="#000" stroke-width="1.1" stroke-dasharray="14 1.2 2.2 1.2 2.2 1.2"/>
<path d="M315.8 623.1C316.5 627.3 318.8 639 320.3 648.1C321.8 657.1 323.6 670 324.8 677.6C326.1 685.1 329.1 689.7 327.6 693.5C326.1 697.2 317.7 699.1 315.8 700.3" fill="none" stroke="#000" stroke-width="1.1" stroke-dasharray="14 1.2 2.2 1.2 2.2 1.2"/>
<path d="M302.1 622C303.5 622.2 307.8 622.9 310.1 623.1C312.4 623.3 313.3 624.2 315.8 623.1C318.2 622.1 323.3 617.8 324.8 616.8" fill="none" stroke="#000" stroke-width="1.1" stroke-dasharray="14 1.2 2.2 1.2 2.2 1.2"/>
<path d="M89.5 802.9 L102.6 781.6 L105.9 787.4 L125.8 775.6 L129.8 792 L106.8 805.2 L106.4 811.6Z" fill="#fff" stroke="#000" stroke-width="1.3" />
<path d="M100.3 783.2L102.6 781.6" stroke="#000" stroke-width="1.3" fill="none" />
<path d="M123.5 777.2L125.8 775.6" stroke="#000" stroke-width="1.3" fill="none" />
<path d="M127.5 793.6L129.8 792" stroke="#000" stroke-width="1.3" fill="none" />
<path d="M87.2 804.5 L100.3 783.2 L103.6 789 L123.5 777.2 L127.5 793.6 L104.5 806.8 L104.1 813.2Z" fill="#fff" stroke="#000" stroke-width="1.4" />
<g transform="translate(102.8 804.8) skewY(-30.5) skewX(-10) scale(0.94 1)" fill="none" stroke="#000" stroke-width="1.9" stroke-linecap="butt" stroke-linejoin="miter"><path d="M0.9 0V-11.6H5.8M0.9 -6H4.8M7.6 -11.8L9.3 -0.6L11.1 -9L12.9 -0.6L14.6 -11.8M17 -0.9V-10.7H18.8Q21 -10.7 21 -8.5V-3.1Q21 -0.9 18.8 -0.9Z"/></g>
<g opacity="0.999"><!--TEXTWRAP-->
<text transform="translate(596.4 99.8) scale(1.36 1)" font-size="11.7" text-anchor="middle" stroke="#000" stroke-width="0.38">28</text>
<text transform="translate(595.8 117.5) scale(1.36 1)" font-size="11.7" text-anchor="middle" stroke="#000" stroke-width="0.38">27</text>
<text transform="translate(515.9 124.8) scale(1.36 1)" font-size="11.7" text-anchor="middle" stroke="#000" stroke-width="0.38">26</text>
<text transform="translate(520.9 152.7) scale(1.36 1)" font-size="11.7" text-anchor="middle" stroke="#000" stroke-width="0.38">25</text>
<text transform="translate(594.8 186) scale(1.36 1)" font-size="11.7" text-anchor="middle" stroke="#000" stroke-width="0.38">24</text>
<text transform="translate(594 206.7) scale(1.36 1)" font-size="11.7" text-anchor="middle" stroke="#000" stroke-width="0.38">23</text>
<text transform="translate(594 228.2) scale(1.36 1)" font-size="11.7" text-anchor="middle" stroke="#000" stroke-width="0.38">29</text>
<text transform="translate(594 267.2) scale(1.36 1)" font-size="11.7" text-anchor="middle" stroke="#000" stroke-width="0.38">20</text>
<text transform="translate(593.4 349.2) scale(1.36 1)" font-size="11.7" text-anchor="middle" stroke="#000" stroke-width="0.38">30</text>
<text transform="translate(472.6 111.8) scale(1.36 1)" font-size="11.7" text-anchor="middle" stroke="#000" stroke-width="0.38">11</text>
<text transform="translate(473.3 155.7) scale(1.36 1)" font-size="11.7" text-anchor="middle" stroke="#000" stroke-width="0.38">16</text>
<text transform="translate(493.3 169.4) scale(1.36 1)" font-size="11.7" text-anchor="middle" stroke="#000" stroke-width="0.38">14</text>
<text transform="translate(516.2 181.7) scale(1.36 1)" font-size="11.7" text-anchor="middle" stroke="#000" stroke-width="0.38">15</text>
<text transform="translate(447.8 271.4) scale(1.36 1)" font-size="11.7" text-anchor="middle" stroke="#000" stroke-width="0.38">22</text>
<text transform="translate(444.2 316.6) scale(1.36 1)" font-size="11.7" text-anchor="middle" stroke="#000" stroke-width="0.38">8</text>
<text transform="translate(416.4 252.3) scale(1.36 1)" font-size="11.7" text-anchor="middle" stroke="#000" stroke-width="0.38">21</text>
<text transform="translate(249.3 145.5) scale(1.36 1)" font-size="11.7" text-anchor="middle" stroke="#000" stroke-width="0.38">13</text>
<text transform="translate(298.2 173.4) scale(1.36 1)" font-size="11.7" text-anchor="middle" stroke="#000" stroke-width="0.38">12</text>
<text transform="translate(189 166.8) scale(1.36 1)" font-size="11.7" text-anchor="middle" stroke="#000" stroke-width="0.38">10</text>
<text transform="translate(280.3 220.2) scale(1.36 1)" font-size="11.7" text-anchor="middle" stroke="#000" stroke-width="0.38">8</text>
<text transform="translate(354.8 263) scale(1.36 1)" font-size="11.7" text-anchor="middle" stroke="#000" stroke-width="0.38">10</text>
<text transform="translate(383.1 280.6) scale(1.36 1)" font-size="11.7" text-anchor="middle" stroke="#000" stroke-width="0.38">17</text>
<text transform="translate(171.7 408.6) scale(1.36 1)" font-size="11.7" text-anchor="middle" stroke="#000" stroke-width="0.38">9</text>
<text transform="translate(447.3 381.5) scale(1.36 1)" font-size="11.7" text-anchor="middle" stroke="#000" stroke-width="0.38">19</text>
<text transform="translate(477.3 404.2) scale(1.36 1)" font-size="11.7" text-anchor="middle" stroke="#000" stroke-width="0.38">18</text>
<text transform="translate(544.2 397.5) scale(1.36 1)" font-size="11.7" text-anchor="middle" stroke="#000" stroke-width="0.38">7</text>
<text transform="translate(115.8 539) scale(1.36 1)" font-size="11.7" text-anchor="middle" stroke="#000" stroke-width="0.38">6</text>
<text transform="translate(126.5 588.9) scale(1.36 1)" font-size="11.7" text-anchor="middle" stroke="#000" stroke-width="0.38">5</text>
<text transform="translate(51.6 687.2) scale(1.36 1)" font-size="11.7" text-anchor="middle" stroke="#000" stroke-width="0.38">4</text>
<text transform="translate(86 701.2) scale(1.36 1)" font-size="11.7" text-anchor="middle" stroke="#000" stroke-width="0.38">3</text>
<text transform="translate(123.8 726.4) scale(1.36 1)" font-size="11.7" text-anchor="middle" stroke="#000" stroke-width="0.38">1</text>
<text transform="translate(248.3 661.4) scale(1.36 1)" font-size="11.7" text-anchor="middle" stroke="#000" stroke-width="0.38">2</text>
<path d="M589 95.6L564.8 100.6" stroke="#000" stroke-width="1.1" fill="none" />
<path d="M586.4 113.3L565.8 113.3" stroke="#000" stroke-width="1.1" fill="none" />
<path d="M525.9 120.9L551.5 128.2" stroke="#000" stroke-width="1.1" fill="none" />
<path d="M529.9 151.5L554.8 164.8" stroke="#000" stroke-width="1.1" fill="none" />
<path d="M585.8 182.5L567.1 182.5" stroke="#000" stroke-width="1.1" fill="none" />
<path d="M584.8 203.1L566.5 199.8" stroke="#000" stroke-width="1.1" fill="none" />
<path d="M583.8 223.8L565.8 220.4" stroke="#000" stroke-width="1.1" fill="none" />
<path d="M583.8 263L564.8 262.4" stroke="#000" stroke-width="1.1" fill="none" />
<path d="M583.8 345.2L563.8 346.2" stroke="#000" stroke-width="1.1" fill="none" />
<path d="M468.3 110L450.6 124.9" stroke="#000" stroke-width="1.1" fill="none" />
<path d="M471.6 158.2L464 181.5" stroke="#000" stroke-width="1.1" fill="none" />
<path d="M492.6 171.5L485 193.1" stroke="#000" stroke-width="1.1" fill="none" />
<path d="M514.9 183.8L505.9 210.4" stroke="#000" stroke-width="1.1" fill="none" />
<path d="M456.6 264.7L476.6 259.7" stroke="#000" stroke-width="1.1" fill="none" />
<path d="M426.4 246.4L448.3 242.4" stroke="#000" stroke-width="1.1" fill="none" />
<path d="M441 319L418 345" stroke="#000" stroke-width="1.1" fill="none" />
<path d="M256.5 134.8L262.6 130" stroke="#000" stroke-width="1.1" fill="none" />
<path d="M303.8 163.9L310 155.4" stroke="#000" stroke-width="1.1" fill="none" />
<path d="M182.7 170L160.9 200.2" stroke="#000" stroke-width="1.1" fill="none" />
<path d="M277.1 223.2L258.3 252.6" stroke="#000" stroke-width="1.1" fill="none" />
<path d="M353.1 266.4L339.8 308" stroke="#000" stroke-width="1.1" fill="none" />
<path d="M379.8 283L354.8 328" stroke="#000" stroke-width="1.1" fill="none" />
<path d="M174.2 398.2L178.2 391.7" stroke="#000" stroke-width="1.1" fill="none" />
<path d="M444 385L435 410" stroke="#000" stroke-width="1.1" fill="none" />
<path d="M475 406.6L461.6 425" stroke="#000" stroke-width="1.1" fill="none" />
<path d="M544.2 401.6L544.2 426.6" stroke="#000" stroke-width="1.1" fill="none" />
<path d="M120 529L136.5 510" stroke="#000" stroke-width="1.1" fill="none" />
<path d="M133 582L156.4 570.4" stroke="#000" stroke-width="1.1" fill="none" />
<path d="M55 677L80 636" stroke="#000" stroke-width="1.1" fill="none" />
<path d="M90 691L108 656" stroke="#000" stroke-width="1.1" fill="none" />
<path d="M126.5 716L146.5 694" stroke="#000" stroke-width="1.1" fill="none" />
<path d="M245 663.2L228.3 681.5" stroke="#000" stroke-width="1.1" fill="none" />
<text transform="translate(66.6 831.2) scale(1.36 1)" font-size="10.2" text-anchor="start" stroke="#000" stroke-width="0.35">5LP1100-1150</text>
</g>
</svg>
</body></html>
